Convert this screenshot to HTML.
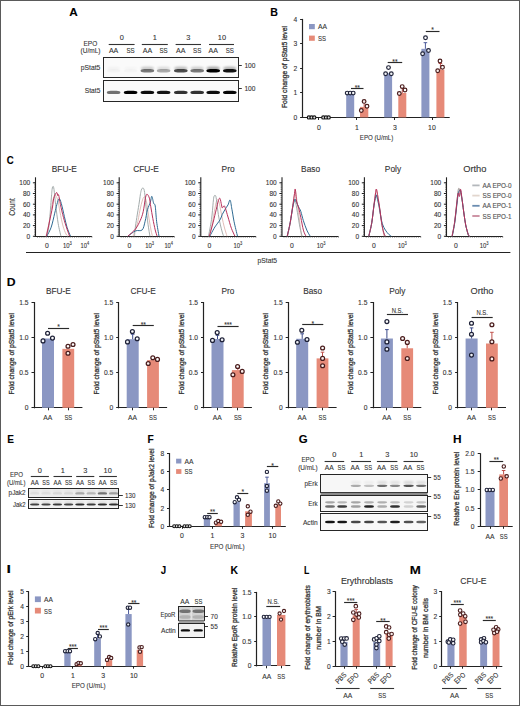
<!DOCTYPE html>
<html><head><meta charset="utf-8"><style>
html,body{margin:0;padding:0;background:#fff;}
body{width:520px;height:706px;overflow:hidden;}
svg{display:block;font-family:"Liberation Sans", sans-serif;}
text{stroke:#333;stroke-width:0.1px;paint-order:stroke;}
text.yl{stroke-width:0.3px;}
</style></head><body>
<svg width="520" height="706" viewBox="0 0 520 706" font-family='"Liberation Sans", sans-serif' fill="#333">
<defs><filter id="bl" x="-30%" y="-100%" width="160%" height="300%"><feGaussianBlur stdDeviation="0.6"/></filter><filter id="bl2" x="-30%" y="-100%" width="160%" height="300%"><feGaussianBlur stdDeviation="1"/></filter></defs>
<rect x="0" y="0" width="520" height="706" fill="#fff"/>
<text x="69.21" y="16.00" font-size="10.8" font-weight="bold" fill="#000" textLength="8.5" lengthAdjust="spacingAndGlyphs">A</text>
<text x="270.19" y="15.50" font-size="10.8" font-weight="bold" fill="#000" textLength="7.7" lengthAdjust="spacingAndGlyphs">B</text>
<text x="6.80" y="164.40" font-size="10.8" font-weight="bold" fill="#000" textLength="6.96" lengthAdjust="spacingAndGlyphs">C</text>
<text x="6.88" y="286.40" font-size="10.8" font-weight="bold" fill="#000" textLength="8.83" lengthAdjust="spacingAndGlyphs">D</text>
<text x="7.13" y="442.70" font-size="10.8" font-weight="bold" fill="#000" textLength="6.72" lengthAdjust="spacingAndGlyphs">E</text>
<text x="147.51" y="442.60" font-size="10.8" font-weight="bold" fill="#000" textLength="6.26" lengthAdjust="spacingAndGlyphs">F</text>
<text x="298.73" y="442.80" font-size="10.8" font-weight="bold" fill="#000" textLength="8.88" lengthAdjust="spacingAndGlyphs">G</text>
<text x="452.90" y="442.90" font-size="10.8" font-weight="bold" fill="#000" textLength="8.6" lengthAdjust="spacingAndGlyphs">H</text>
<text x="6.43" y="572.60" font-size="10.8" font-weight="bold" fill="#000" textLength="4.44" lengthAdjust="spacingAndGlyphs">I</text>
<text x="160.65" y="573.50" font-size="10.8" font-weight="bold" fill="#000" textLength="5.41" lengthAdjust="spacingAndGlyphs">J</text>
<text x="230.61" y="573.50" font-size="10.8" font-weight="bold" fill="#000" textLength="7.49" lengthAdjust="spacingAndGlyphs">K</text>
<text x="304.01" y="573.50" font-size="10.8" font-weight="bold" fill="#000" textLength="5.36" lengthAdjust="spacingAndGlyphs">L</text>
<text x="409.81" y="573.60" font-size="10.8" font-weight="bold" fill="#000" textLength="11.08" lengthAdjust="spacingAndGlyphs">M</text>
<text x="90.35" y="45.80" font-size="7.6" text-anchor="middle" textLength="13.8" lengthAdjust="spacingAndGlyphs">EPO</text>
<text x="90.55" y="53.00" font-size="7.6" text-anchor="middle" textLength="20" lengthAdjust="spacingAndGlyphs">(U/mL)</text>
<text x="121.70" y="40.30" font-size="7.4" text-anchor="middle">0</text>
<line x1="108.70" y1="44.50" x2="134.60" y2="44.50" stroke="#333" stroke-width="1.1"/>
<text x="154.80" y="40.30" font-size="7.4" text-anchor="middle">1</text>
<line x1="141.80" y1="44.50" x2="167.80" y2="44.50" stroke="#333" stroke-width="1.1"/>
<text x="188.30" y="40.30" font-size="7.4" text-anchor="middle">3</text>
<line x1="175.60" y1="44.50" x2="201.00" y2="44.50" stroke="#333" stroke-width="1.1"/>
<text x="221.90" y="40.30" font-size="7.4" text-anchor="middle">10</text>
<line x1="209.00" y1="44.50" x2="234.00" y2="44.50" stroke="#333" stroke-width="1.1"/>
<text x="113.60" y="53.10" font-size="7.4" text-anchor="middle" textLength="9.4" lengthAdjust="spacingAndGlyphs">AA</text>
<text x="130.60" y="53.10" font-size="7.4" text-anchor="middle" textLength="8.2" lengthAdjust="spacingAndGlyphs">SS</text>
<text x="147.40" y="53.10" font-size="7.4" text-anchor="middle" textLength="9.4" lengthAdjust="spacingAndGlyphs">AA</text>
<text x="163.60" y="53.10" font-size="7.4" text-anchor="middle" textLength="8.2" lengthAdjust="spacingAndGlyphs">SS</text>
<text x="180.80" y="53.10" font-size="7.4" text-anchor="middle" textLength="9.4" lengthAdjust="spacingAndGlyphs">AA</text>
<text x="197.20" y="53.10" font-size="7.4" text-anchor="middle" textLength="8.2" lengthAdjust="spacingAndGlyphs">SS</text>
<text x="213.20" y="53.10" font-size="7.4" text-anchor="middle" textLength="9.4" lengthAdjust="spacingAndGlyphs">AA</text>
<text x="229.80" y="53.10" font-size="7.4" text-anchor="middle" textLength="8.2" lengthAdjust="spacingAndGlyphs">SS</text>
<text x="100.40" y="70.30" font-size="7.4" text-anchor="end" textLength="19.6" lengthAdjust="spacingAndGlyphs">pStat5</text>
<text x="100.40" y="93.10" font-size="7.4" text-anchor="end" textLength="15.6" lengthAdjust="spacingAndGlyphs">Stat5</text>
<rect x="103.50" y="57.50" width="135.00" height="20.00" fill="#fafafa" stroke="#262626" stroke-width="1"/>
<rect x="103.50" y="80.50" width="135.00" height="21.00" fill="#fafafa" stroke="#262626" stroke-width="1"/>
<rect x="106.80" y="69.10" width="13.60" height="3.40" rx="3.81" ry="1.70" fill="#000" opacity="0.02" filter="url(#bl)"/>
<rect x="123.80" y="69.10" width="13.60" height="3.40" rx="3.81" ry="1.70" fill="#000" opacity="0.015" filter="url(#bl)"/>
<rect x="140.60" y="69.10" width="13.60" height="3.40" rx="3.81" ry="1.70" fill="#000" opacity="0.5" filter="url(#bl)"/>
<rect x="156.80" y="69.10" width="13.60" height="3.40" rx="3.81" ry="1.70" fill="#000" opacity="0.3" filter="url(#bl)"/>
<rect x="174.00" y="69.10" width="13.60" height="3.40" rx="3.81" ry="1.70" fill="#000" opacity="0.68" filter="url(#bl)"/>
<rect x="190.40" y="69.10" width="13.60" height="3.40" rx="3.81" ry="1.70" fill="#000" opacity="0.5" filter="url(#bl)"/>
<rect x="206.40" y="69.10" width="13.60" height="3.40" rx="3.81" ry="1.70" fill="#000" opacity="1.0" filter="url(#bl)"/>
<rect x="223.00" y="69.10" width="13.60" height="3.40" rx="3.81" ry="1.70" fill="#000" opacity="0.92" filter="url(#bl)"/>
<rect x="107.00" y="66.70" width="13.20" height="3.20" rx="3.70" ry="1.60" fill="#000" opacity="0.03" filter="url(#bl2)"/>
<rect x="124.00" y="66.70" width="13.20" height="3.20" rx="3.70" ry="1.60" fill="#000" opacity="0.02" filter="url(#bl2)"/>
<rect x="140.80" y="66.70" width="13.20" height="3.20" rx="3.70" ry="1.60" fill="#000" opacity="0.2" filter="url(#bl2)"/>
<rect x="157.00" y="66.70" width="13.20" height="3.20" rx="3.70" ry="1.60" fill="#000" opacity="0.12" filter="url(#bl2)"/>
<rect x="174.20" y="66.70" width="13.20" height="3.20" rx="3.70" ry="1.60" fill="#000" opacity="0.25" filter="url(#bl2)"/>
<rect x="190.60" y="66.70" width="13.20" height="3.20" rx="3.70" ry="1.60" fill="#000" opacity="0.18" filter="url(#bl2)"/>
<rect x="206.60" y="66.70" width="13.20" height="3.20" rx="3.70" ry="1.60" fill="#000" opacity="0.35" filter="url(#bl2)"/>
<rect x="223.20" y="66.70" width="13.20" height="3.20" rx="3.70" ry="1.60" fill="#000" opacity="0.3" filter="url(#bl2)"/>
<rect x="106.80" y="90.70" width="13.60" height="3.40" rx="3.81" ry="1.70" fill="#000" opacity="0.55" filter="url(#bl)"/>
<rect x="123.80" y="90.70" width="13.60" height="3.40" rx="3.81" ry="1.70" fill="#000" opacity="1.0" filter="url(#bl)"/>
<rect x="140.60" y="90.70" width="13.60" height="3.40" rx="3.81" ry="1.70" fill="#000" opacity="0.95" filter="url(#bl)"/>
<rect x="156.80" y="90.70" width="13.60" height="3.40" rx="3.81" ry="1.70" fill="#000" opacity="0.92" filter="url(#bl)"/>
<rect x="174.00" y="90.70" width="13.60" height="3.40" rx="3.81" ry="1.70" fill="#000" opacity="0.8" filter="url(#bl)"/>
<rect x="190.40" y="90.70" width="13.60" height="3.40" rx="3.81" ry="1.70" fill="#000" opacity="0.8" filter="url(#bl)"/>
<rect x="206.40" y="90.70" width="13.60" height="3.40" rx="3.81" ry="1.70" fill="#000" opacity="0.95" filter="url(#bl)"/>
<rect x="223.00" y="90.70" width="13.60" height="3.40" rx="3.81" ry="1.70" fill="#000" opacity="0.98" filter="url(#bl)"/>
<line x1="238.60" y1="65.50" x2="241.80" y2="65.50" stroke="#333" stroke-width="1"/>
<text x="244.40" y="68.10" font-size="7.4" textLength="11" lengthAdjust="spacingAndGlyphs">100</text>
<line x1="238.60" y1="88.50" x2="241.80" y2="88.50" stroke="#333" stroke-width="1"/>
<text x="244.40" y="90.80" font-size="7.4" textLength="11" lengthAdjust="spacingAndGlyphs">100</text>
<line x1="302.50" y1="18.90" x2="302.50" y2="117.90" stroke="#222" stroke-width="1.2"/>
<line x1="300.10" y1="117.50" x2="302.70" y2="117.50" stroke="#222" stroke-width="1"/>
<text x="297.30" y="119.80" font-size="6.7" text-anchor="end">0</text>
<line x1="300.10" y1="92.50" x2="302.70" y2="92.50" stroke="#222" stroke-width="1"/>
<text x="297.30" y="95.30" font-size="6.7" text-anchor="end">1</text>
<line x1="300.10" y1="68.50" x2="302.70" y2="68.50" stroke="#222" stroke-width="1"/>
<text x="297.30" y="70.80" font-size="6.7" text-anchor="end">2</text>
<line x1="300.10" y1="43.50" x2="302.70" y2="43.50" stroke="#222" stroke-width="1"/>
<text x="297.30" y="46.30" font-size="6.7" text-anchor="end">3</text>
<line x1="300.10" y1="19.50" x2="302.70" y2="19.50" stroke="#222" stroke-width="1"/>
<text x="297.30" y="21.80" font-size="6.7" text-anchor="end">4</text>
<line x1="302.70" y1="117.50" x2="449.70" y2="117.50" stroke="#222" stroke-width="1.2"/>
<line x1="318.50" y1="117.40" x2="318.50" y2="120.00" stroke="#222" stroke-width="1"/>
<line x1="356.50" y1="117.40" x2="356.50" y2="120.00" stroke="#222" stroke-width="1"/>
<line x1="394.50" y1="117.40" x2="394.50" y2="120.00" stroke="#222" stroke-width="1"/>
<line x1="432.50" y1="117.40" x2="432.50" y2="120.00" stroke="#222" stroke-width="1"/>
<text x="319.00" y="129.80" font-size="6.9" text-anchor="middle">0</text>
<text x="356.90" y="129.80" font-size="6.9" text-anchor="middle">1</text>
<text x="394.80" y="129.80" font-size="6.9" text-anchor="middle">3</text>
<text x="431.90" y="129.80" font-size="6.9" text-anchor="middle">10</text>
<text x="376.60" y="140.00" font-size="7.6" text-anchor="middle" textLength="33.5" lengthAdjust="spacingAndGlyphs">EPO (U/mL)</text>
<text x="287.20" y="67.00" font-size="7.9" text-anchor="middle" textLength="82" lengthAdjust="spacingAndGlyphs" transform="rotate(-90 287.20 67.00)" class="yl">Fold change of pStat5 level</text>
<rect x="309.00" y="24.00" width="5.80" height="5.20" fill="#8b97c3"/>
<text x="318.00" y="29.40" font-size="7.2" textLength="9" lengthAdjust="spacingAndGlyphs">AA</text>
<rect x="309.00" y="35.60" width="5.80" height="5.20" fill="#e68a78"/>
<text x="318.00" y="41.00" font-size="7.2" textLength="8" lengthAdjust="spacingAndGlyphs">SS</text>
<rect x="346.20" y="92.90" width="8.00" height="24.50" fill="#8b97c3"/>
<circle cx="347.20" cy="93.10" r="1.85" fill="#fff" fill-opacity="0.85" stroke="#1f2238" stroke-width="1.2"/>
<circle cx="350.20" cy="93.10" r="1.85" fill="#fff" fill-opacity="0.85" stroke="#1f2238" stroke-width="1.2"/>
<circle cx="353.20" cy="93.10" r="1.85" fill="#fff" fill-opacity="0.85" stroke="#1f2238" stroke-width="1.2"/>
<rect x="360.00" y="106.87" width="8.30" height="10.53" fill="#e68a78"/>
<line x1="364.15" y1="101.48" x2="364.15" y2="106.87" stroke="#c0504a" stroke-width="1"/>
<line x1="362.35" y1="101.48" x2="365.95" y2="101.48" stroke="#c0504a" stroke-width="1"/>
<circle cx="361.30" cy="110.50" r="1.85" fill="#fff" fill-opacity="0.85" stroke="#4a1c1c" stroke-width="1.2"/>
<circle cx="364.10" cy="101.40" r="1.85" fill="#fff" fill-opacity="0.85" stroke="#4a1c1c" stroke-width="1.2"/>
<circle cx="367.00" cy="106.20" r="1.85" fill="#fff" fill-opacity="0.85" stroke="#4a1c1c" stroke-width="1.2"/>
<rect x="384.20" y="73.30" width="7.90" height="44.10" fill="#8b97c3"/>
<circle cx="385.60" cy="73.80" r="1.85" fill="#fff" fill-opacity="0.85" stroke="#1f2238" stroke-width="1.2"/>
<circle cx="388.50" cy="67.60" r="1.85" fill="#fff" fill-opacity="0.85" stroke="#1f2238" stroke-width="1.2"/>
<circle cx="391.30" cy="73.80" r="1.85" fill="#fff" fill-opacity="0.85" stroke="#1f2238" stroke-width="1.2"/>
<rect x="398.30" y="92.90" width="8.00" height="24.50" fill="#e68a78"/>
<line x1="402.30" y1="88.00" x2="402.30" y2="92.90" stroke="#c0504a" stroke-width="1"/>
<line x1="400.50" y1="88.00" x2="404.10" y2="88.00" stroke="#c0504a" stroke-width="1"/>
<circle cx="399.30" cy="93.50" r="1.85" fill="#fff" fill-opacity="0.85" stroke="#4a1c1c" stroke-width="1.2"/>
<circle cx="402.20" cy="86.60" r="1.85" fill="#fff" fill-opacity="0.85" stroke="#4a1c1c" stroke-width="1.2"/>
<circle cx="405.00" cy="90.00" r="1.85" fill="#fff" fill-opacity="0.85" stroke="#4a1c1c" stroke-width="1.2"/>
<rect x="421.40" y="48.80" width="8.00" height="68.60" fill="#8b97c3"/>
<line x1="425.40" y1="42.68" x2="425.40" y2="48.80" stroke="#4c5a9a" stroke-width="1"/>
<line x1="423.60" y1="42.68" x2="427.20" y2="42.68" stroke="#4c5a9a" stroke-width="1"/>
<circle cx="422.60" cy="53.70" r="1.85" fill="#fff" fill-opacity="0.85" stroke="#1f2238" stroke-width="1.2"/>
<circle cx="425.50" cy="37.70" r="1.85" fill="#fff" fill-opacity="0.85" stroke="#1f2238" stroke-width="1.2"/>
<circle cx="428.50" cy="50.50" r="1.85" fill="#fff" fill-opacity="0.85" stroke="#1f2238" stroke-width="1.2"/>
<rect x="436.40" y="69.62" width="8.00" height="47.78" fill="#e68a78"/>
<line x1="440.40" y1="63.50" x2="440.40" y2="69.62" stroke="#c0504a" stroke-width="1"/>
<line x1="438.60" y1="63.50" x2="442.20" y2="63.50" stroke="#c0504a" stroke-width="1"/>
<circle cx="437.70" cy="70.80" r="1.85" fill="#fff" fill-opacity="0.85" stroke="#4a1c1c" stroke-width="1.2"/>
<circle cx="440.00" cy="61.00" r="1.85" fill="#fff" fill-opacity="0.85" stroke="#4a1c1c" stroke-width="1.2"/>
<circle cx="442.50" cy="67.30" r="1.85" fill="#fff" fill-opacity="0.85" stroke="#4a1c1c" stroke-width="1.2"/>
<circle cx="308.90" cy="117.40" r="1.6" fill="#fff" fill-opacity="0.85" stroke="#111" stroke-width="1.15"/>
<circle cx="311.60" cy="117.40" r="1.6" fill="#fff" fill-opacity="0.85" stroke="#111" stroke-width="1.15"/>
<circle cx="314.30" cy="117.40" r="1.6" fill="#fff" fill-opacity="0.85" stroke="#111" stroke-width="1.15"/>
<circle cx="323.30" cy="117.40" r="1.6" fill="#fff" fill-opacity="0.85" stroke="#111" stroke-width="1.15"/>
<circle cx="326.00" cy="117.40" r="1.6" fill="#fff" fill-opacity="0.85" stroke="#111" stroke-width="1.15"/>
<circle cx="328.70" cy="117.40" r="1.6" fill="#fff" fill-opacity="0.85" stroke="#111" stroke-width="1.15"/>
<line x1="351.00" y1="88.50" x2="363.50" y2="88.50" stroke="#2a2a2a" stroke-width="1.15"/>
<text x="357.25" y="89.50" font-size="7.5" text-anchor="middle" textLength="5.2" lengthAdjust="spacingAndGlyphs">**</text>
<line x1="387.70" y1="62.50" x2="402.20" y2="62.50" stroke="#2a2a2a" stroke-width="1.15"/>
<text x="394.95" y="63.70" font-size="7.5" text-anchor="middle" textLength="5.2" lengthAdjust="spacingAndGlyphs">**</text>
<line x1="425.80" y1="31.50" x2="439.50" y2="31.50" stroke="#2a2a2a" stroke-width="1.15"/>
<text x="432.65" y="32.20" font-size="7.5" text-anchor="middle" textLength="2.6" lengthAdjust="spacingAndGlyphs">*</text>
<text x="64.25" y="172.30" font-size="8.4" text-anchor="middle">BFU-E</text>
<line x1="35.50" y1="177.30" x2="35.50" y2="236.80" stroke="#222" stroke-width="1.1"/>
<line x1="35.50" y1="236.50" x2="91.90" y2="236.50" stroke="#222" stroke-width="1.2"/>
<line x1="34.10" y1="236.30" x2="35.50" y2="236.30" stroke="#222" stroke-width="0.7"/>
<line x1="34.10" y1="234.16" x2="35.50" y2="234.16" stroke="#222" stroke-width="0.7"/>
<line x1="34.10" y1="232.02" x2="35.50" y2="232.02" stroke="#222" stroke-width="0.7"/>
<line x1="34.10" y1="229.88" x2="35.50" y2="229.88" stroke="#222" stroke-width="0.7"/>
<line x1="34.10" y1="227.74" x2="35.50" y2="227.74" stroke="#222" stroke-width="0.7"/>
<line x1="34.10" y1="225.60" x2="35.50" y2="225.60" stroke="#222" stroke-width="0.7"/>
<line x1="34.10" y1="223.46" x2="35.50" y2="223.46" stroke="#222" stroke-width="0.7"/>
<line x1="34.10" y1="221.32" x2="35.50" y2="221.32" stroke="#222" stroke-width="0.7"/>
<line x1="34.10" y1="219.18" x2="35.50" y2="219.18" stroke="#222" stroke-width="0.7"/>
<line x1="34.10" y1="217.04" x2="35.50" y2="217.04" stroke="#222" stroke-width="0.7"/>
<line x1="34.10" y1="214.90" x2="35.50" y2="214.90" stroke="#222" stroke-width="0.7"/>
<line x1="34.10" y1="212.76" x2="35.50" y2="212.76" stroke="#222" stroke-width="0.7"/>
<line x1="34.10" y1="210.62" x2="35.50" y2="210.62" stroke="#222" stroke-width="0.7"/>
<line x1="34.10" y1="208.48" x2="35.50" y2="208.48" stroke="#222" stroke-width="0.7"/>
<line x1="34.10" y1="206.34" x2="35.50" y2="206.34" stroke="#222" stroke-width="0.7"/>
<line x1="34.10" y1="204.20" x2="35.50" y2="204.20" stroke="#222" stroke-width="0.7"/>
<line x1="34.10" y1="202.06" x2="35.50" y2="202.06" stroke="#222" stroke-width="0.7"/>
<line x1="34.10" y1="199.92" x2="35.50" y2="199.92" stroke="#222" stroke-width="0.7"/>
<line x1="34.10" y1="197.78" x2="35.50" y2="197.78" stroke="#222" stroke-width="0.7"/>
<line x1="34.10" y1="195.64" x2="35.50" y2="195.64" stroke="#222" stroke-width="0.7"/>
<line x1="34.10" y1="193.50" x2="35.50" y2="193.50" stroke="#222" stroke-width="0.7"/>
<line x1="34.10" y1="191.36" x2="35.50" y2="191.36" stroke="#222" stroke-width="0.7"/>
<line x1="34.10" y1="189.22" x2="35.50" y2="189.22" stroke="#222" stroke-width="0.7"/>
<line x1="34.10" y1="187.08" x2="35.50" y2="187.08" stroke="#222" stroke-width="0.7"/>
<line x1="34.10" y1="184.94" x2="35.50" y2="184.94" stroke="#222" stroke-width="0.7"/>
<line x1="34.10" y1="182.80" x2="35.50" y2="182.80" stroke="#222" stroke-width="0.7"/>
<line x1="32.90" y1="236.30" x2="35.50" y2="236.30" stroke="#222" stroke-width="1"/>
<text x="30.20" y="238.60" font-size="6.5" text-anchor="end">0</text>
<line x1="32.90" y1="225.60" x2="35.50" y2="225.60" stroke="#222" stroke-width="1"/>
<text x="30.20" y="227.90" font-size="6.5" text-anchor="end">20</text>
<line x1="32.90" y1="214.90" x2="35.50" y2="214.90" stroke="#222" stroke-width="1"/>
<text x="30.20" y="217.20" font-size="6.5" text-anchor="end">40</text>
<line x1="32.90" y1="204.20" x2="35.50" y2="204.20" stroke="#222" stroke-width="1"/>
<text x="30.20" y="206.50" font-size="6.5" text-anchor="end">60</text>
<line x1="32.90" y1="193.50" x2="35.50" y2="193.50" stroke="#222" stroke-width="1"/>
<text x="30.20" y="195.80" font-size="6.5" text-anchor="end">80</text>
<line x1="32.90" y1="182.80" x2="35.50" y2="182.80" stroke="#222" stroke-width="1"/>
<text x="30.20" y="185.10" font-size="6.5" text-anchor="end">100</text>
<line x1="37.50" y1="236.30" x2="37.50" y2="237.70" stroke="#333" stroke-width="0.6"/>
<line x1="39.68" y1="236.30" x2="39.68" y2="237.70" stroke="#333" stroke-width="0.6"/>
<line x1="41.85" y1="236.30" x2="41.85" y2="237.70" stroke="#333" stroke-width="0.6"/>
<line x1="44.03" y1="236.30" x2="44.03" y2="237.70" stroke="#333" stroke-width="0.6"/>
<line x1="46.20" y1="236.30" x2="46.20" y2="237.70" stroke="#333" stroke-width="0.6"/>
<line x1="48.38" y1="236.30" x2="48.38" y2="237.70" stroke="#333" stroke-width="0.6"/>
<line x1="50.56" y1="236.30" x2="50.56" y2="237.70" stroke="#333" stroke-width="0.6"/>
<line x1="52.73" y1="236.30" x2="52.73" y2="237.70" stroke="#333" stroke-width="0.6"/>
<line x1="54.91" y1="236.30" x2="54.91" y2="237.70" stroke="#333" stroke-width="0.6"/>
<line x1="57.08" y1="236.30" x2="57.08" y2="237.70" stroke="#333" stroke-width="0.6"/>
<line x1="59.26" y1="236.30" x2="59.26" y2="237.70" stroke="#333" stroke-width="0.6"/>
<line x1="61.44" y1="236.30" x2="61.44" y2="237.70" stroke="#333" stroke-width="0.6"/>
<line x1="63.61" y1="236.30" x2="63.61" y2="237.70" stroke="#333" stroke-width="0.6"/>
<line x1="65.79" y1="236.30" x2="65.79" y2="237.70" stroke="#333" stroke-width="0.6"/>
<line x1="67.96" y1="236.30" x2="67.96" y2="237.70" stroke="#333" stroke-width="0.6"/>
<line x1="70.14" y1="236.30" x2="70.14" y2="237.70" stroke="#333" stroke-width="0.6"/>
<line x1="72.32" y1="236.30" x2="72.32" y2="237.70" stroke="#333" stroke-width="0.6"/>
<line x1="74.49" y1="236.30" x2="74.49" y2="237.70" stroke="#333" stroke-width="0.6"/>
<line x1="76.67" y1="236.30" x2="76.67" y2="237.70" stroke="#333" stroke-width="0.6"/>
<line x1="78.84" y1="236.30" x2="78.84" y2="237.70" stroke="#333" stroke-width="0.6"/>
<line x1="81.02" y1="236.30" x2="81.02" y2="237.70" stroke="#333" stroke-width="0.6"/>
<line x1="83.20" y1="236.30" x2="83.20" y2="237.70" stroke="#333" stroke-width="0.6"/>
<line x1="85.37" y1="236.30" x2="85.37" y2="237.70" stroke="#333" stroke-width="0.6"/>
<line x1="87.55" y1="236.30" x2="87.55" y2="237.70" stroke="#333" stroke-width="0.6"/>
<line x1="89.72" y1="236.30" x2="89.72" y2="237.70" stroke="#333" stroke-width="0.6"/>
<line x1="91.90" y1="236.30" x2="91.90" y2="237.70" stroke="#333" stroke-width="0.6"/>
<text x="47.00" y="247.80" font-size="6.8" text-anchor="middle">0</text>
<text x="67.30" y="247.80" font-size="6.8" text-anchor="middle" textLength="8.8" lengthAdjust="spacingAndGlyphs">10<tspan font-size="4.6" dy="-2.7">3</tspan></text>
<text x="84.80" y="247.80" font-size="6.8" text-anchor="middle" textLength="8.6" lengthAdjust="spacingAndGlyphs">10<tspan font-size="4.6" dy="-2.7">4</tspan></text>
<path d="M46.0,236.2 C46.5,234.0 48.0,228.2 49.0,223.0 C50.0,217.8 51.1,209.7 52.0,205.0 C52.9,200.3 53.8,196.5 54.5,195.0 C55.2,193.5 55.4,195.0 56.0,196.0 C56.6,197.0 57.3,198.3 58.0,201.0 C58.7,203.7 59.2,207.8 60.0,212.0 C60.8,216.2 62.0,222.3 63.0,226.0 C64.0,229.7 65.2,232.3 66.0,234.0 C66.8,235.7 67.7,235.8 68.0,236.2" fill="none" stroke="#e2bdb8" stroke-width="1"/>
<path d="M46.5,236.2 C46.9,234.4 48.2,231.5 49.0,225.5 C49.8,219.5 50.7,206.0 51.2,200.0 C51.7,194.0 51.8,191.7 52.1,189.4 C52.4,187.1 52.8,186.4 53.1,186.4 C53.4,186.4 53.6,186.5 54.0,189.5 C54.4,192.5 54.9,198.7 55.6,204.4 C56.3,210.1 57.3,218.4 58.2,223.7 C59.1,229.0 60.5,234.1 60.9,236.2" fill="none" stroke="#a3abab" stroke-width="1"/>
<path d="M46.8,236.2 C47.5,234.7 49.9,231.0 51.2,227.2 C52.5,223.4 53.8,217.0 54.7,213.2 C55.7,209.4 56.2,206.8 56.9,204.4 C57.6,202.0 58.4,198.8 59.1,198.7 C59.8,198.5 60.4,200.5 61.3,203.5 C62.2,206.5 63.5,212.8 64.4,216.7 C65.4,220.6 66.0,223.9 67.0,227.2 C68.0,230.4 69.9,234.7 70.5,236.2" fill="none" stroke="#2e6a92" stroke-width="1"/>
<path d="M46.4,236.2 C46.9,233.8 48.4,226.9 49.4,222.0 C50.4,217.1 51.8,211.0 52.5,207.0 C53.2,203.0 53.1,200.6 53.8,198.2 C54.5,195.8 55.8,192.9 56.5,192.5 C57.2,192.1 57.4,195.2 57.8,195.6 C58.2,196.0 58.3,193.6 58.7,195.1 C59.1,196.6 59.6,200.7 60.4,204.4 C61.2,208.2 62.4,213.5 63.5,217.6 C64.6,221.7 66.0,225.9 67.0,229.0 C68.0,232.1 69.2,235.0 69.6,236.2" fill="none" stroke="#b8305a" stroke-width="1"/>
<text x="146.00" y="172.30" font-size="8.4" text-anchor="middle">CFU-E</text>
<line x1="119.20" y1="177.30" x2="119.20" y2="236.80" stroke="#222" stroke-width="1.1"/>
<line x1="119.20" y1="236.50" x2="174.30" y2="236.50" stroke="#222" stroke-width="1.2"/>
<line x1="117.80" y1="236.30" x2="119.20" y2="236.30" stroke="#222" stroke-width="0.7"/>
<line x1="117.80" y1="234.16" x2="119.20" y2="234.16" stroke="#222" stroke-width="0.7"/>
<line x1="117.80" y1="232.02" x2="119.20" y2="232.02" stroke="#222" stroke-width="0.7"/>
<line x1="117.80" y1="229.88" x2="119.20" y2="229.88" stroke="#222" stroke-width="0.7"/>
<line x1="117.80" y1="227.74" x2="119.20" y2="227.74" stroke="#222" stroke-width="0.7"/>
<line x1="117.80" y1="225.60" x2="119.20" y2="225.60" stroke="#222" stroke-width="0.7"/>
<line x1="117.80" y1="223.46" x2="119.20" y2="223.46" stroke="#222" stroke-width="0.7"/>
<line x1="117.80" y1="221.32" x2="119.20" y2="221.32" stroke="#222" stroke-width="0.7"/>
<line x1="117.80" y1="219.18" x2="119.20" y2="219.18" stroke="#222" stroke-width="0.7"/>
<line x1="117.80" y1="217.04" x2="119.20" y2="217.04" stroke="#222" stroke-width="0.7"/>
<line x1="117.80" y1="214.90" x2="119.20" y2="214.90" stroke="#222" stroke-width="0.7"/>
<line x1="117.80" y1="212.76" x2="119.20" y2="212.76" stroke="#222" stroke-width="0.7"/>
<line x1="117.80" y1="210.62" x2="119.20" y2="210.62" stroke="#222" stroke-width="0.7"/>
<line x1="117.80" y1="208.48" x2="119.20" y2="208.48" stroke="#222" stroke-width="0.7"/>
<line x1="117.80" y1="206.34" x2="119.20" y2="206.34" stroke="#222" stroke-width="0.7"/>
<line x1="117.80" y1="204.20" x2="119.20" y2="204.20" stroke="#222" stroke-width="0.7"/>
<line x1="117.80" y1="202.06" x2="119.20" y2="202.06" stroke="#222" stroke-width="0.7"/>
<line x1="117.80" y1="199.92" x2="119.20" y2="199.92" stroke="#222" stroke-width="0.7"/>
<line x1="117.80" y1="197.78" x2="119.20" y2="197.78" stroke="#222" stroke-width="0.7"/>
<line x1="117.80" y1="195.64" x2="119.20" y2="195.64" stroke="#222" stroke-width="0.7"/>
<line x1="117.80" y1="193.50" x2="119.20" y2="193.50" stroke="#222" stroke-width="0.7"/>
<line x1="117.80" y1="191.36" x2="119.20" y2="191.36" stroke="#222" stroke-width="0.7"/>
<line x1="117.80" y1="189.22" x2="119.20" y2="189.22" stroke="#222" stroke-width="0.7"/>
<line x1="117.80" y1="187.08" x2="119.20" y2="187.08" stroke="#222" stroke-width="0.7"/>
<line x1="117.80" y1="184.94" x2="119.20" y2="184.94" stroke="#222" stroke-width="0.7"/>
<line x1="117.80" y1="182.80" x2="119.20" y2="182.80" stroke="#222" stroke-width="0.7"/>
<line x1="116.60" y1="236.30" x2="119.20" y2="236.30" stroke="#222" stroke-width="1"/>
<text x="113.90" y="238.60" font-size="6.5" text-anchor="end">0</text>
<line x1="116.60" y1="225.60" x2="119.20" y2="225.60" stroke="#222" stroke-width="1"/>
<text x="113.90" y="227.90" font-size="6.5" text-anchor="end">20</text>
<line x1="116.60" y1="214.90" x2="119.20" y2="214.90" stroke="#222" stroke-width="1"/>
<text x="113.90" y="217.20" font-size="6.5" text-anchor="end">40</text>
<line x1="116.60" y1="204.20" x2="119.20" y2="204.20" stroke="#222" stroke-width="1"/>
<text x="113.90" y="206.50" font-size="6.5" text-anchor="end">60</text>
<line x1="116.60" y1="193.50" x2="119.20" y2="193.50" stroke="#222" stroke-width="1"/>
<text x="113.90" y="195.80" font-size="6.5" text-anchor="end">80</text>
<line x1="116.60" y1="182.80" x2="119.20" y2="182.80" stroke="#222" stroke-width="1"/>
<text x="113.90" y="185.10" font-size="6.5" text-anchor="end">100</text>
<line x1="121.20" y1="236.30" x2="121.20" y2="237.70" stroke="#333" stroke-width="0.6"/>
<line x1="123.32" y1="236.30" x2="123.32" y2="237.70" stroke="#333" stroke-width="0.6"/>
<line x1="125.45" y1="236.30" x2="125.45" y2="237.70" stroke="#333" stroke-width="0.6"/>
<line x1="127.57" y1="236.30" x2="127.57" y2="237.70" stroke="#333" stroke-width="0.6"/>
<line x1="129.70" y1="236.30" x2="129.70" y2="237.70" stroke="#333" stroke-width="0.6"/>
<line x1="131.82" y1="236.30" x2="131.82" y2="237.70" stroke="#333" stroke-width="0.6"/>
<line x1="133.94" y1="236.30" x2="133.94" y2="237.70" stroke="#333" stroke-width="0.6"/>
<line x1="136.07" y1="236.30" x2="136.07" y2="237.70" stroke="#333" stroke-width="0.6"/>
<line x1="138.19" y1="236.30" x2="138.19" y2="237.70" stroke="#333" stroke-width="0.6"/>
<line x1="140.32" y1="236.30" x2="140.32" y2="237.70" stroke="#333" stroke-width="0.6"/>
<line x1="142.44" y1="236.30" x2="142.44" y2="237.70" stroke="#333" stroke-width="0.6"/>
<line x1="144.56" y1="236.30" x2="144.56" y2="237.70" stroke="#333" stroke-width="0.6"/>
<line x1="146.69" y1="236.30" x2="146.69" y2="237.70" stroke="#333" stroke-width="0.6"/>
<line x1="148.81" y1="236.30" x2="148.81" y2="237.70" stroke="#333" stroke-width="0.6"/>
<line x1="150.94" y1="236.30" x2="150.94" y2="237.70" stroke="#333" stroke-width="0.6"/>
<line x1="153.06" y1="236.30" x2="153.06" y2="237.70" stroke="#333" stroke-width="0.6"/>
<line x1="155.18" y1="236.30" x2="155.18" y2="237.70" stroke="#333" stroke-width="0.6"/>
<line x1="157.31" y1="236.30" x2="157.31" y2="237.70" stroke="#333" stroke-width="0.6"/>
<line x1="159.43" y1="236.30" x2="159.43" y2="237.70" stroke="#333" stroke-width="0.6"/>
<line x1="161.56" y1="236.30" x2="161.56" y2="237.70" stroke="#333" stroke-width="0.6"/>
<line x1="163.68" y1="236.30" x2="163.68" y2="237.70" stroke="#333" stroke-width="0.6"/>
<line x1="165.80" y1="236.30" x2="165.80" y2="237.70" stroke="#333" stroke-width="0.6"/>
<line x1="167.93" y1="236.30" x2="167.93" y2="237.70" stroke="#333" stroke-width="0.6"/>
<line x1="170.05" y1="236.30" x2="170.05" y2="237.70" stroke="#333" stroke-width="0.6"/>
<line x1="172.18" y1="236.30" x2="172.18" y2="237.70" stroke="#333" stroke-width="0.6"/>
<line x1="174.30" y1="236.30" x2="174.30" y2="237.70" stroke="#333" stroke-width="0.6"/>
<text x="129.30" y="247.80" font-size="6.8" text-anchor="middle">0</text>
<text x="149.70" y="247.80" font-size="6.8" text-anchor="middle" textLength="8.8" lengthAdjust="spacingAndGlyphs">10<tspan font-size="4.6" dy="-2.7">3</tspan></text>
<text x="168.70" y="247.80" font-size="6.8" text-anchor="middle" textLength="8.6" lengthAdjust="spacingAndGlyphs">10<tspan font-size="4.6" dy="-2.7">4</tspan></text>
<path d="M133.0,236.2 C133.7,234.3 135.8,229.4 137.0,225.0 C138.2,220.6 139.1,214.2 140.0,210.0 C140.9,205.8 141.8,202.2 142.5,200.0 C143.2,197.8 143.8,196.7 144.5,197.0 C145.2,197.3 145.8,199.0 146.5,202.0 C147.2,205.0 147.8,210.3 148.5,215.0 C149.2,219.7 150.3,226.5 151.0,230.0 C151.7,233.5 152.2,235.2 152.5,236.2" fill="none" stroke="#e2bdb8" stroke-width="1"/>
<path d="M134.5,236.2 C134.7,234.5 134.7,231.7 135.5,226.0 C136.3,220.3 138.4,207.9 139.3,202.0 C140.2,196.1 140.5,192.8 141.2,190.5 C141.8,188.2 142.6,187.8 143.2,188.1 C143.8,188.4 144.1,189.3 144.6,192.4 C145.1,195.5 145.4,201.5 146.0,206.8 C146.6,212.1 147.3,219.3 148.0,224.2 C148.7,229.1 149.6,234.2 149.9,236.2" fill="none" stroke="#a3abab" stroke-width="1"/>
<path d="M127.8,236.2 C129.1,235.3 133.1,231.9 135.5,230.9 C137.9,229.9 140.6,231.5 142.2,229.9 C143.8,228.3 144.2,224.7 145.1,221.3 C146.0,217.9 146.6,212.9 147.5,209.7 C148.4,206.5 149.7,204.2 150.4,202.0 C151.1,199.8 151.2,196.1 151.8,196.3 C152.4,196.6 153.1,201.9 153.7,203.5 C154.3,205.1 154.7,202.9 155.2,205.9 C155.7,208.9 156.0,216.2 156.6,221.3 C157.2,226.4 158.6,233.7 159.0,236.2" fill="none" stroke="#2e6a92" stroke-width="1"/>
<path d="M127.8,236.2 C129.1,235.0 133.4,231.7 135.5,229.0 C137.6,226.3 139.0,223.2 140.3,220.3 C141.6,217.4 142.3,215.5 143.2,211.7 C144.1,207.8 144.9,200.1 145.6,197.2 C146.3,194.3 146.6,194.1 147.2,194.3 C147.8,194.5 148.8,196.1 149.4,198.2 C150.0,200.3 150.2,203.4 150.8,206.8 C151.4,210.2 152.1,214.6 152.8,218.4 C153.5,222.2 154.5,226.9 155.2,229.9 C155.9,232.9 156.8,235.1 157.1,236.2" fill="none" stroke="#b8305a" stroke-width="1"/>
<text x="228.10" y="172.30" font-size="8.4" text-anchor="middle">Pro</text>
<line x1="200.80" y1="177.30" x2="200.80" y2="236.80" stroke="#222" stroke-width="1.1"/>
<line x1="200.80" y1="236.50" x2="255.90" y2="236.50" stroke="#222" stroke-width="1.2"/>
<line x1="199.40" y1="236.30" x2="200.80" y2="236.30" stroke="#222" stroke-width="0.7"/>
<line x1="199.40" y1="234.16" x2="200.80" y2="234.16" stroke="#222" stroke-width="0.7"/>
<line x1="199.40" y1="232.02" x2="200.80" y2="232.02" stroke="#222" stroke-width="0.7"/>
<line x1="199.40" y1="229.88" x2="200.80" y2="229.88" stroke="#222" stroke-width="0.7"/>
<line x1="199.40" y1="227.74" x2="200.80" y2="227.74" stroke="#222" stroke-width="0.7"/>
<line x1="199.40" y1="225.60" x2="200.80" y2="225.60" stroke="#222" stroke-width="0.7"/>
<line x1="199.40" y1="223.46" x2="200.80" y2="223.46" stroke="#222" stroke-width="0.7"/>
<line x1="199.40" y1="221.32" x2="200.80" y2="221.32" stroke="#222" stroke-width="0.7"/>
<line x1="199.40" y1="219.18" x2="200.80" y2="219.18" stroke="#222" stroke-width="0.7"/>
<line x1="199.40" y1="217.04" x2="200.80" y2="217.04" stroke="#222" stroke-width="0.7"/>
<line x1="199.40" y1="214.90" x2="200.80" y2="214.90" stroke="#222" stroke-width="0.7"/>
<line x1="199.40" y1="212.76" x2="200.80" y2="212.76" stroke="#222" stroke-width="0.7"/>
<line x1="199.40" y1="210.62" x2="200.80" y2="210.62" stroke="#222" stroke-width="0.7"/>
<line x1="199.40" y1="208.48" x2="200.80" y2="208.48" stroke="#222" stroke-width="0.7"/>
<line x1="199.40" y1="206.34" x2="200.80" y2="206.34" stroke="#222" stroke-width="0.7"/>
<line x1="199.40" y1="204.20" x2="200.80" y2="204.20" stroke="#222" stroke-width="0.7"/>
<line x1="199.40" y1="202.06" x2="200.80" y2="202.06" stroke="#222" stroke-width="0.7"/>
<line x1="199.40" y1="199.92" x2="200.80" y2="199.92" stroke="#222" stroke-width="0.7"/>
<line x1="199.40" y1="197.78" x2="200.80" y2="197.78" stroke="#222" stroke-width="0.7"/>
<line x1="199.40" y1="195.64" x2="200.80" y2="195.64" stroke="#222" stroke-width="0.7"/>
<line x1="199.40" y1="193.50" x2="200.80" y2="193.50" stroke="#222" stroke-width="0.7"/>
<line x1="199.40" y1="191.36" x2="200.80" y2="191.36" stroke="#222" stroke-width="0.7"/>
<line x1="199.40" y1="189.22" x2="200.80" y2="189.22" stroke="#222" stroke-width="0.7"/>
<line x1="199.40" y1="187.08" x2="200.80" y2="187.08" stroke="#222" stroke-width="0.7"/>
<line x1="199.40" y1="184.94" x2="200.80" y2="184.94" stroke="#222" stroke-width="0.7"/>
<line x1="199.40" y1="182.80" x2="200.80" y2="182.80" stroke="#222" stroke-width="0.7"/>
<line x1="198.20" y1="236.30" x2="200.80" y2="236.30" stroke="#222" stroke-width="1"/>
<text x="195.50" y="238.60" font-size="6.5" text-anchor="end">0</text>
<line x1="198.20" y1="225.60" x2="200.80" y2="225.60" stroke="#222" stroke-width="1"/>
<text x="195.50" y="227.90" font-size="6.5" text-anchor="end">20</text>
<line x1="198.20" y1="214.90" x2="200.80" y2="214.90" stroke="#222" stroke-width="1"/>
<text x="195.50" y="217.20" font-size="6.5" text-anchor="end">40</text>
<line x1="198.20" y1="204.20" x2="200.80" y2="204.20" stroke="#222" stroke-width="1"/>
<text x="195.50" y="206.50" font-size="6.5" text-anchor="end">60</text>
<line x1="198.20" y1="193.50" x2="200.80" y2="193.50" stroke="#222" stroke-width="1"/>
<text x="195.50" y="195.80" font-size="6.5" text-anchor="end">80</text>
<line x1="198.20" y1="182.80" x2="200.80" y2="182.80" stroke="#222" stroke-width="1"/>
<text x="195.50" y="185.10" font-size="6.5" text-anchor="end">100</text>
<line x1="202.80" y1="236.30" x2="202.80" y2="237.70" stroke="#333" stroke-width="0.6"/>
<line x1="204.92" y1="236.30" x2="204.92" y2="237.70" stroke="#333" stroke-width="0.6"/>
<line x1="207.05" y1="236.30" x2="207.05" y2="237.70" stroke="#333" stroke-width="0.6"/>
<line x1="209.17" y1="236.30" x2="209.17" y2="237.70" stroke="#333" stroke-width="0.6"/>
<line x1="211.30" y1="236.30" x2="211.30" y2="237.70" stroke="#333" stroke-width="0.6"/>
<line x1="213.42" y1="236.30" x2="213.42" y2="237.70" stroke="#333" stroke-width="0.6"/>
<line x1="215.54" y1="236.30" x2="215.54" y2="237.70" stroke="#333" stroke-width="0.6"/>
<line x1="217.67" y1="236.30" x2="217.67" y2="237.70" stroke="#333" stroke-width="0.6"/>
<line x1="219.79" y1="236.30" x2="219.79" y2="237.70" stroke="#333" stroke-width="0.6"/>
<line x1="221.92" y1="236.30" x2="221.92" y2="237.70" stroke="#333" stroke-width="0.6"/>
<line x1="224.04" y1="236.30" x2="224.04" y2="237.70" stroke="#333" stroke-width="0.6"/>
<line x1="226.16" y1="236.30" x2="226.16" y2="237.70" stroke="#333" stroke-width="0.6"/>
<line x1="228.29" y1="236.30" x2="228.29" y2="237.70" stroke="#333" stroke-width="0.6"/>
<line x1="230.41" y1="236.30" x2="230.41" y2="237.70" stroke="#333" stroke-width="0.6"/>
<line x1="232.54" y1="236.30" x2="232.54" y2="237.70" stroke="#333" stroke-width="0.6"/>
<line x1="234.66" y1="236.30" x2="234.66" y2="237.70" stroke="#333" stroke-width="0.6"/>
<line x1="236.78" y1="236.30" x2="236.78" y2="237.70" stroke="#333" stroke-width="0.6"/>
<line x1="238.91" y1="236.30" x2="238.91" y2="237.70" stroke="#333" stroke-width="0.6"/>
<line x1="241.03" y1="236.30" x2="241.03" y2="237.70" stroke="#333" stroke-width="0.6"/>
<line x1="243.16" y1="236.30" x2="243.16" y2="237.70" stroke="#333" stroke-width="0.6"/>
<line x1="245.28" y1="236.30" x2="245.28" y2="237.70" stroke="#333" stroke-width="0.6"/>
<line x1="247.40" y1="236.30" x2="247.40" y2="237.70" stroke="#333" stroke-width="0.6"/>
<line x1="249.53" y1="236.30" x2="249.53" y2="237.70" stroke="#333" stroke-width="0.6"/>
<line x1="251.65" y1="236.30" x2="251.65" y2="237.70" stroke="#333" stroke-width="0.6"/>
<line x1="253.78" y1="236.30" x2="253.78" y2="237.70" stroke="#333" stroke-width="0.6"/>
<line x1="255.90" y1="236.30" x2="255.90" y2="237.70" stroke="#333" stroke-width="0.6"/>
<text x="209.30" y="247.80" font-size="6.8" text-anchor="middle">0</text>
<text x="237.80" y="247.80" font-size="6.8" text-anchor="middle" textLength="8.8" lengthAdjust="spacingAndGlyphs">10<tspan font-size="4.6" dy="-2.7">3</tspan></text>
<path d="M209.0,236.2 C209.5,234.3 211.0,229.7 212.0,225.0 C213.0,220.3 214.2,212.2 215.0,208.0 C215.8,203.8 216.3,201.0 217.0,200.0 C217.7,199.0 218.3,200.0 219.0,202.0 C219.7,204.0 220.2,208.0 221.0,212.0 C221.8,216.0 223.0,222.0 224.0,226.0 C225.0,230.0 226.5,234.5 227.0,236.2" fill="none" stroke="#e2bdb8" stroke-width="1"/>
<path d="M208.5,236.2 C209.0,233.4 210.7,225.2 211.5,219.6 C212.3,213.9 212.8,206.2 213.2,202.3 C213.6,198.4 213.7,197.2 214.1,196.2 C214.5,195.2 215.3,194.8 215.8,196.2 C216.3,197.6 216.6,201.3 217.1,204.9 C217.6,208.5 218.1,213.6 218.9,217.9 C219.7,222.2 221.1,227.9 221.9,230.9 C222.7,233.9 223.3,235.3 223.6,236.2" fill="none" stroke="#a3abab" stroke-width="1"/>
<path d="M209.8,236.2 C210.5,234.9 212.9,230.4 214.1,228.3 C215.3,226.2 216.1,225.4 217.1,223.9 C218.1,222.4 219.3,221.2 220.2,219.6 C221.1,218.0 221.5,216.1 222.3,214.4 C223.1,212.8 224.0,211.3 224.9,209.7 C225.8,208.1 227.1,206.5 228.0,204.9 C228.9,203.3 229.4,199.4 230.1,200.1 C230.8,200.8 231.2,205.7 231.9,209.2 C232.6,212.7 233.1,216.8 234.0,221.3 C234.9,225.8 236.9,233.7 237.5,236.2" fill="none" stroke="#2e6a92" stroke-width="1"/>
<path d="M209.4,236.2 C210.0,233.9 212.0,226.7 213.2,222.2 C214.3,217.7 215.4,212.8 216.3,209.2 C217.2,205.6 217.8,202.4 218.4,200.6 C219.0,198.8 219.5,197.7 220.0,198.4 C220.5,199.1 221.1,203.3 221.5,204.9 C221.9,206.5 221.9,207.8 222.3,207.9 C222.7,208.1 223.6,205.7 224.1,205.8 C224.6,205.9 224.8,206.5 225.4,208.4 C226.1,210.3 227.0,213.7 228.0,217.0 C229.0,220.3 230.2,225.1 231.4,228.3 C232.6,231.5 234.3,234.9 234.9,236.2" fill="none" stroke="#b8305a" stroke-width="1"/>
<text x="310.60" y="172.30" font-size="8.4" text-anchor="middle">Baso</text>
<line x1="282.00" y1="177.30" x2="282.00" y2="236.80" stroke="#222" stroke-width="1.1"/>
<line x1="282.00" y1="236.50" x2="338.40" y2="236.50" stroke="#222" stroke-width="1.2"/>
<line x1="280.60" y1="236.30" x2="282.00" y2="236.30" stroke="#222" stroke-width="0.7"/>
<line x1="280.60" y1="234.16" x2="282.00" y2="234.16" stroke="#222" stroke-width="0.7"/>
<line x1="280.60" y1="232.02" x2="282.00" y2="232.02" stroke="#222" stroke-width="0.7"/>
<line x1="280.60" y1="229.88" x2="282.00" y2="229.88" stroke="#222" stroke-width="0.7"/>
<line x1="280.60" y1="227.74" x2="282.00" y2="227.74" stroke="#222" stroke-width="0.7"/>
<line x1="280.60" y1="225.60" x2="282.00" y2="225.60" stroke="#222" stroke-width="0.7"/>
<line x1="280.60" y1="223.46" x2="282.00" y2="223.46" stroke="#222" stroke-width="0.7"/>
<line x1="280.60" y1="221.32" x2="282.00" y2="221.32" stroke="#222" stroke-width="0.7"/>
<line x1="280.60" y1="219.18" x2="282.00" y2="219.18" stroke="#222" stroke-width="0.7"/>
<line x1="280.60" y1="217.04" x2="282.00" y2="217.04" stroke="#222" stroke-width="0.7"/>
<line x1="280.60" y1="214.90" x2="282.00" y2="214.90" stroke="#222" stroke-width="0.7"/>
<line x1="280.60" y1="212.76" x2="282.00" y2="212.76" stroke="#222" stroke-width="0.7"/>
<line x1="280.60" y1="210.62" x2="282.00" y2="210.62" stroke="#222" stroke-width="0.7"/>
<line x1="280.60" y1="208.48" x2="282.00" y2="208.48" stroke="#222" stroke-width="0.7"/>
<line x1="280.60" y1="206.34" x2="282.00" y2="206.34" stroke="#222" stroke-width="0.7"/>
<line x1="280.60" y1="204.20" x2="282.00" y2="204.20" stroke="#222" stroke-width="0.7"/>
<line x1="280.60" y1="202.06" x2="282.00" y2="202.06" stroke="#222" stroke-width="0.7"/>
<line x1="280.60" y1="199.92" x2="282.00" y2="199.92" stroke="#222" stroke-width="0.7"/>
<line x1="280.60" y1="197.78" x2="282.00" y2="197.78" stroke="#222" stroke-width="0.7"/>
<line x1="280.60" y1="195.64" x2="282.00" y2="195.64" stroke="#222" stroke-width="0.7"/>
<line x1="280.60" y1="193.50" x2="282.00" y2="193.50" stroke="#222" stroke-width="0.7"/>
<line x1="280.60" y1="191.36" x2="282.00" y2="191.36" stroke="#222" stroke-width="0.7"/>
<line x1="280.60" y1="189.22" x2="282.00" y2="189.22" stroke="#222" stroke-width="0.7"/>
<line x1="280.60" y1="187.08" x2="282.00" y2="187.08" stroke="#222" stroke-width="0.7"/>
<line x1="280.60" y1="184.94" x2="282.00" y2="184.94" stroke="#222" stroke-width="0.7"/>
<line x1="280.60" y1="182.80" x2="282.00" y2="182.80" stroke="#222" stroke-width="0.7"/>
<line x1="279.40" y1="236.30" x2="282.00" y2="236.30" stroke="#222" stroke-width="1"/>
<text x="276.70" y="238.60" font-size="6.5" text-anchor="end">0</text>
<line x1="279.40" y1="225.60" x2="282.00" y2="225.60" stroke="#222" stroke-width="1"/>
<text x="276.70" y="227.90" font-size="6.5" text-anchor="end">20</text>
<line x1="279.40" y1="214.90" x2="282.00" y2="214.90" stroke="#222" stroke-width="1"/>
<text x="276.70" y="217.20" font-size="6.5" text-anchor="end">40</text>
<line x1="279.40" y1="204.20" x2="282.00" y2="204.20" stroke="#222" stroke-width="1"/>
<text x="276.70" y="206.50" font-size="6.5" text-anchor="end">60</text>
<line x1="279.40" y1="193.50" x2="282.00" y2="193.50" stroke="#222" stroke-width="1"/>
<text x="276.70" y="195.80" font-size="6.5" text-anchor="end">80</text>
<line x1="279.40" y1="182.80" x2="282.00" y2="182.80" stroke="#222" stroke-width="1"/>
<text x="276.70" y="185.10" font-size="6.5" text-anchor="end">100</text>
<line x1="284.00" y1="236.30" x2="284.00" y2="237.70" stroke="#333" stroke-width="0.6"/>
<line x1="286.18" y1="236.30" x2="286.18" y2="237.70" stroke="#333" stroke-width="0.6"/>
<line x1="288.35" y1="236.30" x2="288.35" y2="237.70" stroke="#333" stroke-width="0.6"/>
<line x1="290.53" y1="236.30" x2="290.53" y2="237.70" stroke="#333" stroke-width="0.6"/>
<line x1="292.70" y1="236.30" x2="292.70" y2="237.70" stroke="#333" stroke-width="0.6"/>
<line x1="294.88" y1="236.30" x2="294.88" y2="237.70" stroke="#333" stroke-width="0.6"/>
<line x1="297.06" y1="236.30" x2="297.06" y2="237.70" stroke="#333" stroke-width="0.6"/>
<line x1="299.23" y1="236.30" x2="299.23" y2="237.70" stroke="#333" stroke-width="0.6"/>
<line x1="301.41" y1="236.30" x2="301.41" y2="237.70" stroke="#333" stroke-width="0.6"/>
<line x1="303.58" y1="236.30" x2="303.58" y2="237.70" stroke="#333" stroke-width="0.6"/>
<line x1="305.76" y1="236.30" x2="305.76" y2="237.70" stroke="#333" stroke-width="0.6"/>
<line x1="307.94" y1="236.30" x2="307.94" y2="237.70" stroke="#333" stroke-width="0.6"/>
<line x1="310.11" y1="236.30" x2="310.11" y2="237.70" stroke="#333" stroke-width="0.6"/>
<line x1="312.29" y1="236.30" x2="312.29" y2="237.70" stroke="#333" stroke-width="0.6"/>
<line x1="314.46" y1="236.30" x2="314.46" y2="237.70" stroke="#333" stroke-width="0.6"/>
<line x1="316.64" y1="236.30" x2="316.64" y2="237.70" stroke="#333" stroke-width="0.6"/>
<line x1="318.82" y1="236.30" x2="318.82" y2="237.70" stroke="#333" stroke-width="0.6"/>
<line x1="320.99" y1="236.30" x2="320.99" y2="237.70" stroke="#333" stroke-width="0.6"/>
<line x1="323.17" y1="236.30" x2="323.17" y2="237.70" stroke="#333" stroke-width="0.6"/>
<line x1="325.34" y1="236.30" x2="325.34" y2="237.70" stroke="#333" stroke-width="0.6"/>
<line x1="327.52" y1="236.30" x2="327.52" y2="237.70" stroke="#333" stroke-width="0.6"/>
<line x1="329.70" y1="236.30" x2="329.70" y2="237.70" stroke="#333" stroke-width="0.6"/>
<line x1="331.87" y1="236.30" x2="331.87" y2="237.70" stroke="#333" stroke-width="0.6"/>
<line x1="334.05" y1="236.30" x2="334.05" y2="237.70" stroke="#333" stroke-width="0.6"/>
<line x1="336.22" y1="236.30" x2="336.22" y2="237.70" stroke="#333" stroke-width="0.6"/>
<line x1="338.40" y1="236.30" x2="338.40" y2="237.70" stroke="#333" stroke-width="0.6"/>
<text x="291.80" y="247.80" font-size="6.8" text-anchor="middle">0</text>
<text x="321.10" y="247.80" font-size="6.8" text-anchor="middle" textLength="8.8" lengthAdjust="spacingAndGlyphs">10<tspan font-size="4.6" dy="-2.7">3</tspan></text>
<path d="M287.5,236.2 C288.0,233.9 289.5,227.6 290.4,222.5 C291.3,217.4 292.2,210.2 292.9,205.5 C293.6,200.8 294.1,196.6 294.5,194.0 C294.9,191.4 295.0,189.7 295.3,190.0 C295.6,190.3 295.9,193.3 296.3,196.0 C296.7,198.7 297.1,202.0 297.6,206.0 C298.1,210.0 298.9,215.0 299.5,220.0 C300.1,225.0 301.2,233.5 301.5,236.2" fill="none" stroke="#e2bdb8" stroke-width="1"/>
<path d="M287.4,236.2 C287.9,233.9 289.4,227.5 290.3,222.5 C291.2,217.5 292.1,209.7 292.8,206.0 C293.5,202.3 294.1,201.4 294.5,200.5 C294.9,199.6 294.8,198.4 295.3,200.4 C295.8,202.4 296.6,207.8 297.4,212.3 C298.2,216.8 299.2,223.6 300.0,227.6 C300.8,231.6 301.8,234.8 302.1,236.2" fill="none" stroke="#a3abab" stroke-width="1"/>
<path d="M287.2,236.2 C287.7,233.9 289.3,227.4 290.2,222.5 C291.1,217.6 292.1,210.7 292.8,207.0 C293.5,203.3 294.1,201.8 294.5,200.5 C294.9,199.2 294.7,198.5 295.3,199.5 C295.9,200.5 297.4,204.3 298.3,206.3 C299.2,208.3 300.0,209.0 300.8,211.4 C301.6,213.8 302.4,217.7 303.4,220.8 C304.4,223.9 305.7,227.5 306.8,230.1 C307.9,232.7 309.6,235.2 310.2,236.2" fill="none" stroke="#2e6a92" stroke-width="1"/>
<path d="M287.2,236.2 C287.7,233.9 289.3,227.6 290.2,222.5 C291.1,217.4 292.1,210.3 292.8,205.5 C293.5,200.7 294.1,196.3 294.5,193.6 C294.9,190.9 294.9,188.0 295.3,189.3 C295.7,190.6 296.0,198.1 296.6,201.2 C297.2,204.3 298.0,205.3 298.7,208.0 C299.4,210.7 300.0,213.7 300.8,217.4 C301.6,221.1 302.5,227.0 303.4,230.1 C304.2,233.2 305.5,235.2 305.9,236.2" fill="none" stroke="#b8305a" stroke-width="1"/>
<text x="393.00" y="172.30" font-size="8.4" text-anchor="middle">Poly</text>
<line x1="364.40" y1="177.30" x2="364.40" y2="236.80" stroke="#222" stroke-width="1.1"/>
<line x1="364.40" y1="236.50" x2="420.70" y2="236.50" stroke="#222" stroke-width="1.2"/>
<line x1="363.00" y1="236.30" x2="364.40" y2="236.30" stroke="#222" stroke-width="0.7"/>
<line x1="363.00" y1="234.16" x2="364.40" y2="234.16" stroke="#222" stroke-width="0.7"/>
<line x1="363.00" y1="232.02" x2="364.40" y2="232.02" stroke="#222" stroke-width="0.7"/>
<line x1="363.00" y1="229.88" x2="364.40" y2="229.88" stroke="#222" stroke-width="0.7"/>
<line x1="363.00" y1="227.74" x2="364.40" y2="227.74" stroke="#222" stroke-width="0.7"/>
<line x1="363.00" y1="225.60" x2="364.40" y2="225.60" stroke="#222" stroke-width="0.7"/>
<line x1="363.00" y1="223.46" x2="364.40" y2="223.46" stroke="#222" stroke-width="0.7"/>
<line x1="363.00" y1="221.32" x2="364.40" y2="221.32" stroke="#222" stroke-width="0.7"/>
<line x1="363.00" y1="219.18" x2="364.40" y2="219.18" stroke="#222" stroke-width="0.7"/>
<line x1="363.00" y1="217.04" x2="364.40" y2="217.04" stroke="#222" stroke-width="0.7"/>
<line x1="363.00" y1="214.90" x2="364.40" y2="214.90" stroke="#222" stroke-width="0.7"/>
<line x1="363.00" y1="212.76" x2="364.40" y2="212.76" stroke="#222" stroke-width="0.7"/>
<line x1="363.00" y1="210.62" x2="364.40" y2="210.62" stroke="#222" stroke-width="0.7"/>
<line x1="363.00" y1="208.48" x2="364.40" y2="208.48" stroke="#222" stroke-width="0.7"/>
<line x1="363.00" y1="206.34" x2="364.40" y2="206.34" stroke="#222" stroke-width="0.7"/>
<line x1="363.00" y1="204.20" x2="364.40" y2="204.20" stroke="#222" stroke-width="0.7"/>
<line x1="363.00" y1="202.06" x2="364.40" y2="202.06" stroke="#222" stroke-width="0.7"/>
<line x1="363.00" y1="199.92" x2="364.40" y2="199.92" stroke="#222" stroke-width="0.7"/>
<line x1="363.00" y1="197.78" x2="364.40" y2="197.78" stroke="#222" stroke-width="0.7"/>
<line x1="363.00" y1="195.64" x2="364.40" y2="195.64" stroke="#222" stroke-width="0.7"/>
<line x1="363.00" y1="193.50" x2="364.40" y2="193.50" stroke="#222" stroke-width="0.7"/>
<line x1="363.00" y1="191.36" x2="364.40" y2="191.36" stroke="#222" stroke-width="0.7"/>
<line x1="363.00" y1="189.22" x2="364.40" y2="189.22" stroke="#222" stroke-width="0.7"/>
<line x1="363.00" y1="187.08" x2="364.40" y2="187.08" stroke="#222" stroke-width="0.7"/>
<line x1="363.00" y1="184.94" x2="364.40" y2="184.94" stroke="#222" stroke-width="0.7"/>
<line x1="363.00" y1="182.80" x2="364.40" y2="182.80" stroke="#222" stroke-width="0.7"/>
<line x1="361.80" y1="236.30" x2="364.40" y2="236.30" stroke="#222" stroke-width="1"/>
<text x="359.10" y="238.60" font-size="6.5" text-anchor="end">0</text>
<line x1="361.80" y1="225.60" x2="364.40" y2="225.60" stroke="#222" stroke-width="1"/>
<text x="359.10" y="227.90" font-size="6.5" text-anchor="end">20</text>
<line x1="361.80" y1="214.90" x2="364.40" y2="214.90" stroke="#222" stroke-width="1"/>
<text x="359.10" y="217.20" font-size="6.5" text-anchor="end">40</text>
<line x1="361.80" y1="204.20" x2="364.40" y2="204.20" stroke="#222" stroke-width="1"/>
<text x="359.10" y="206.50" font-size="6.5" text-anchor="end">60</text>
<line x1="361.80" y1="193.50" x2="364.40" y2="193.50" stroke="#222" stroke-width="1"/>
<text x="359.10" y="195.80" font-size="6.5" text-anchor="end">80</text>
<line x1="361.80" y1="182.80" x2="364.40" y2="182.80" stroke="#222" stroke-width="1"/>
<text x="359.10" y="185.10" font-size="6.5" text-anchor="end">100</text>
<line x1="366.40" y1="236.30" x2="366.40" y2="237.70" stroke="#333" stroke-width="0.6"/>
<line x1="368.57" y1="236.30" x2="368.57" y2="237.70" stroke="#333" stroke-width="0.6"/>
<line x1="370.74" y1="236.30" x2="370.74" y2="237.70" stroke="#333" stroke-width="0.6"/>
<line x1="372.92" y1="236.30" x2="372.92" y2="237.70" stroke="#333" stroke-width="0.6"/>
<line x1="375.09" y1="236.30" x2="375.09" y2="237.70" stroke="#333" stroke-width="0.6"/>
<line x1="377.26" y1="236.30" x2="377.26" y2="237.70" stroke="#333" stroke-width="0.6"/>
<line x1="379.43" y1="236.30" x2="379.43" y2="237.70" stroke="#333" stroke-width="0.6"/>
<line x1="381.60" y1="236.30" x2="381.60" y2="237.70" stroke="#333" stroke-width="0.6"/>
<line x1="383.78" y1="236.30" x2="383.78" y2="237.70" stroke="#333" stroke-width="0.6"/>
<line x1="385.95" y1="236.30" x2="385.95" y2="237.70" stroke="#333" stroke-width="0.6"/>
<line x1="388.12" y1="236.30" x2="388.12" y2="237.70" stroke="#333" stroke-width="0.6"/>
<line x1="390.29" y1="236.30" x2="390.29" y2="237.70" stroke="#333" stroke-width="0.6"/>
<line x1="392.46" y1="236.30" x2="392.46" y2="237.70" stroke="#333" stroke-width="0.6"/>
<line x1="394.64" y1="236.30" x2="394.64" y2="237.70" stroke="#333" stroke-width="0.6"/>
<line x1="396.81" y1="236.30" x2="396.81" y2="237.70" stroke="#333" stroke-width="0.6"/>
<line x1="398.98" y1="236.30" x2="398.98" y2="237.70" stroke="#333" stroke-width="0.6"/>
<line x1="401.15" y1="236.30" x2="401.15" y2="237.70" stroke="#333" stroke-width="0.6"/>
<line x1="403.32" y1="236.30" x2="403.32" y2="237.70" stroke="#333" stroke-width="0.6"/>
<line x1="405.50" y1="236.30" x2="405.50" y2="237.70" stroke="#333" stroke-width="0.6"/>
<line x1="407.67" y1="236.30" x2="407.67" y2="237.70" stroke="#333" stroke-width="0.6"/>
<line x1="409.84" y1="236.30" x2="409.84" y2="237.70" stroke="#333" stroke-width="0.6"/>
<line x1="412.01" y1="236.30" x2="412.01" y2="237.70" stroke="#333" stroke-width="0.6"/>
<line x1="414.18" y1="236.30" x2="414.18" y2="237.70" stroke="#333" stroke-width="0.6"/>
<line x1="416.36" y1="236.30" x2="416.36" y2="237.70" stroke="#333" stroke-width="0.6"/>
<line x1="418.53" y1="236.30" x2="418.53" y2="237.70" stroke="#333" stroke-width="0.6"/>
<line x1="420.70" y1="236.30" x2="420.70" y2="237.70" stroke="#333" stroke-width="0.6"/>
<text x="374.00" y="247.80" font-size="6.8" text-anchor="middle">0</text>
<text x="402.30" y="247.80" font-size="6.8" text-anchor="middle" textLength="8.8" lengthAdjust="spacingAndGlyphs">10<tspan font-size="4.6" dy="-2.7">3</tspan></text>
<path d="M368.8,236.2 C369.3,233.9 371.0,227.6 371.8,222.5 C372.6,217.4 373.3,210.5 373.9,205.5 C374.5,200.5 375.2,195.3 375.6,192.7 C376.0,190.1 376.1,189.1 376.5,189.8 C376.9,190.5 377.4,193.8 378.0,197.0 C378.6,200.2 379.2,204.8 379.8,209.0 C380.4,213.2 380.8,217.5 381.5,222.0 C382.2,226.5 383.6,233.8 384.0,236.2" fill="none" stroke="#e2bdb8" stroke-width="1"/>
<path d="M368.8,236.2 C369.3,233.9 371.0,227.5 371.8,222.5 C372.6,217.5 373.3,210.2 373.9,206.0 C374.5,201.8 375.2,198.7 375.6,197.0 C376.0,195.3 376.0,194.8 376.5,196.0 C377.0,197.2 377.8,200.7 378.5,204.0 C379.2,207.3 379.8,212.0 380.5,216.0 C381.2,220.0 381.8,224.6 382.5,228.0 C383.2,231.4 384.6,234.8 385.0,236.2" fill="none" stroke="#a3abab" stroke-width="1"/>
<path d="M368.8,236.2 C369.3,233.9 371.0,227.5 371.8,222.5 C372.6,217.5 373.3,210.2 373.9,206.0 C374.5,201.8 375.2,198.8 375.6,197.0 C376.0,195.2 375.9,193.9 376.5,195.3 C377.1,196.7 378.2,201.7 379.0,205.5 C379.8,209.3 380.5,214.9 381.1,218.2 C381.7,221.4 382.1,223.0 382.8,225.0 C383.5,227.0 384.4,228.5 385.4,230.1 C386.4,231.7 387.8,233.4 388.8,234.4 C389.8,235.4 390.9,235.9 391.3,236.2" fill="none" stroke="#2e6a92" stroke-width="1"/>
<path d="M368.8,236.2 C369.3,233.9 371.0,227.6 371.8,222.5 C372.6,217.4 373.3,210.5 373.9,205.5 C374.5,200.5 375.2,195.4 375.6,192.7 C376.0,190.0 376.1,188.3 376.5,189.3 C376.9,190.3 377.6,195.3 378.2,198.7 C378.8,202.1 379.3,205.7 379.9,209.7 C380.5,213.7 381.0,218.7 381.6,222.5 C382.2,226.3 383.1,230.4 383.7,232.7 C384.3,235.0 385.1,235.6 385.4,236.2" fill="none" stroke="#b8305a" stroke-width="1"/>
<text x="474.80" y="172.30" font-size="8.4" text-anchor="middle" textLength="23.3" lengthAdjust="spacingAndGlyphs">Ortho</text>
<line x1="446.50" y1="177.30" x2="446.50" y2="236.80" stroke="#222" stroke-width="1.1"/>
<line x1="446.50" y1="236.50" x2="502.70" y2="236.50" stroke="#222" stroke-width="1.2"/>
<line x1="445.10" y1="236.30" x2="446.50" y2="236.30" stroke="#222" stroke-width="0.7"/>
<line x1="445.10" y1="234.16" x2="446.50" y2="234.16" stroke="#222" stroke-width="0.7"/>
<line x1="445.10" y1="232.02" x2="446.50" y2="232.02" stroke="#222" stroke-width="0.7"/>
<line x1="445.10" y1="229.88" x2="446.50" y2="229.88" stroke="#222" stroke-width="0.7"/>
<line x1="445.10" y1="227.74" x2="446.50" y2="227.74" stroke="#222" stroke-width="0.7"/>
<line x1="445.10" y1="225.60" x2="446.50" y2="225.60" stroke="#222" stroke-width="0.7"/>
<line x1="445.10" y1="223.46" x2="446.50" y2="223.46" stroke="#222" stroke-width="0.7"/>
<line x1="445.10" y1="221.32" x2="446.50" y2="221.32" stroke="#222" stroke-width="0.7"/>
<line x1="445.10" y1="219.18" x2="446.50" y2="219.18" stroke="#222" stroke-width="0.7"/>
<line x1="445.10" y1="217.04" x2="446.50" y2="217.04" stroke="#222" stroke-width="0.7"/>
<line x1="445.10" y1="214.90" x2="446.50" y2="214.90" stroke="#222" stroke-width="0.7"/>
<line x1="445.10" y1="212.76" x2="446.50" y2="212.76" stroke="#222" stroke-width="0.7"/>
<line x1="445.10" y1="210.62" x2="446.50" y2="210.62" stroke="#222" stroke-width="0.7"/>
<line x1="445.10" y1="208.48" x2="446.50" y2="208.48" stroke="#222" stroke-width="0.7"/>
<line x1="445.10" y1="206.34" x2="446.50" y2="206.34" stroke="#222" stroke-width="0.7"/>
<line x1="445.10" y1="204.20" x2="446.50" y2="204.20" stroke="#222" stroke-width="0.7"/>
<line x1="445.10" y1="202.06" x2="446.50" y2="202.06" stroke="#222" stroke-width="0.7"/>
<line x1="445.10" y1="199.92" x2="446.50" y2="199.92" stroke="#222" stroke-width="0.7"/>
<line x1="445.10" y1="197.78" x2="446.50" y2="197.78" stroke="#222" stroke-width="0.7"/>
<line x1="445.10" y1="195.64" x2="446.50" y2="195.64" stroke="#222" stroke-width="0.7"/>
<line x1="445.10" y1="193.50" x2="446.50" y2="193.50" stroke="#222" stroke-width="0.7"/>
<line x1="445.10" y1="191.36" x2="446.50" y2="191.36" stroke="#222" stroke-width="0.7"/>
<line x1="445.10" y1="189.22" x2="446.50" y2="189.22" stroke="#222" stroke-width="0.7"/>
<line x1="445.10" y1="187.08" x2="446.50" y2="187.08" stroke="#222" stroke-width="0.7"/>
<line x1="445.10" y1="184.94" x2="446.50" y2="184.94" stroke="#222" stroke-width="0.7"/>
<line x1="445.10" y1="182.80" x2="446.50" y2="182.80" stroke="#222" stroke-width="0.7"/>
<line x1="443.90" y1="236.30" x2="446.50" y2="236.30" stroke="#222" stroke-width="1"/>
<text x="441.20" y="238.60" font-size="6.5" text-anchor="end">0</text>
<line x1="443.90" y1="225.60" x2="446.50" y2="225.60" stroke="#222" stroke-width="1"/>
<text x="441.20" y="227.90" font-size="6.5" text-anchor="end">20</text>
<line x1="443.90" y1="214.90" x2="446.50" y2="214.90" stroke="#222" stroke-width="1"/>
<text x="441.20" y="217.20" font-size="6.5" text-anchor="end">40</text>
<line x1="443.90" y1="204.20" x2="446.50" y2="204.20" stroke="#222" stroke-width="1"/>
<text x="441.20" y="206.50" font-size="6.5" text-anchor="end">60</text>
<line x1="443.90" y1="193.50" x2="446.50" y2="193.50" stroke="#222" stroke-width="1"/>
<text x="441.20" y="195.80" font-size="6.5" text-anchor="end">80</text>
<line x1="443.90" y1="182.80" x2="446.50" y2="182.80" stroke="#222" stroke-width="1"/>
<text x="441.20" y="185.10" font-size="6.5" text-anchor="end">100</text>
<line x1="448.50" y1="236.30" x2="448.50" y2="237.70" stroke="#333" stroke-width="0.6"/>
<line x1="450.67" y1="236.30" x2="450.67" y2="237.70" stroke="#333" stroke-width="0.6"/>
<line x1="452.84" y1="236.30" x2="452.84" y2="237.70" stroke="#333" stroke-width="0.6"/>
<line x1="455.00" y1="236.30" x2="455.00" y2="237.70" stroke="#333" stroke-width="0.6"/>
<line x1="457.17" y1="236.30" x2="457.17" y2="237.70" stroke="#333" stroke-width="0.6"/>
<line x1="459.34" y1="236.30" x2="459.34" y2="237.70" stroke="#333" stroke-width="0.6"/>
<line x1="461.51" y1="236.30" x2="461.51" y2="237.70" stroke="#333" stroke-width="0.6"/>
<line x1="463.68" y1="236.30" x2="463.68" y2="237.70" stroke="#333" stroke-width="0.6"/>
<line x1="465.84" y1="236.30" x2="465.84" y2="237.70" stroke="#333" stroke-width="0.6"/>
<line x1="468.01" y1="236.30" x2="468.01" y2="237.70" stroke="#333" stroke-width="0.6"/>
<line x1="470.18" y1="236.30" x2="470.18" y2="237.70" stroke="#333" stroke-width="0.6"/>
<line x1="472.35" y1="236.30" x2="472.35" y2="237.70" stroke="#333" stroke-width="0.6"/>
<line x1="474.52" y1="236.30" x2="474.52" y2="237.70" stroke="#333" stroke-width="0.6"/>
<line x1="476.68" y1="236.30" x2="476.68" y2="237.70" stroke="#333" stroke-width="0.6"/>
<line x1="478.85" y1="236.30" x2="478.85" y2="237.70" stroke="#333" stroke-width="0.6"/>
<line x1="481.02" y1="236.30" x2="481.02" y2="237.70" stroke="#333" stroke-width="0.6"/>
<line x1="483.19" y1="236.30" x2="483.19" y2="237.70" stroke="#333" stroke-width="0.6"/>
<line x1="485.36" y1="236.30" x2="485.36" y2="237.70" stroke="#333" stroke-width="0.6"/>
<line x1="487.52" y1="236.30" x2="487.52" y2="237.70" stroke="#333" stroke-width="0.6"/>
<line x1="489.69" y1="236.30" x2="489.69" y2="237.70" stroke="#333" stroke-width="0.6"/>
<line x1="491.86" y1="236.30" x2="491.86" y2="237.70" stroke="#333" stroke-width="0.6"/>
<line x1="494.03" y1="236.30" x2="494.03" y2="237.70" stroke="#333" stroke-width="0.6"/>
<line x1="496.20" y1="236.30" x2="496.20" y2="237.70" stroke="#333" stroke-width="0.6"/>
<line x1="498.36" y1="236.30" x2="498.36" y2="237.70" stroke="#333" stroke-width="0.6"/>
<line x1="500.53" y1="236.30" x2="500.53" y2="237.70" stroke="#333" stroke-width="0.6"/>
<line x1="502.70" y1="236.30" x2="502.70" y2="237.70" stroke="#333" stroke-width="0.6"/>
<text x="456.00" y="247.80" font-size="6.8" text-anchor="middle">0</text>
<text x="484.20" y="247.80" font-size="6.8" text-anchor="middle" textLength="8.8" lengthAdjust="spacingAndGlyphs">10<tspan font-size="4.6" dy="-2.7">3</tspan></text>
<path d="M452.1,236.2 C452.5,233.9 453.9,227.4 454.6,222.5 C455.3,217.6 455.7,212.1 456.3,207.0 C456.9,201.9 457.6,195.2 458.0,192.0 C458.4,188.8 458.5,188.1 458.9,188.1 C459.3,188.1 459.9,189.8 460.5,192.0 C461.1,194.2 461.7,197.5 462.3,201.2 C462.9,204.9 463.4,210.0 464.0,214.0 C464.6,218.0 465.0,221.6 465.7,225.0 C466.4,228.4 467.6,232.5 468.2,234.4 C468.8,236.3 469.3,235.9 469.5,236.2" fill="none" stroke="#e2bdb8" stroke-width="1"/>
<path d="M452.1,236.2 C452.5,233.9 453.9,227.4 454.6,222.5 C455.3,217.6 455.7,212.1 456.3,207.0 C456.9,201.9 457.6,195.1 458.0,192.0 C458.4,188.9 458.5,188.4 458.9,188.5 C459.3,188.6 459.9,190.4 460.5,192.5 C461.1,194.6 461.7,197.6 462.3,201.2 C462.9,204.8 463.4,210.0 464.0,214.0 C464.6,218.0 465.0,221.6 465.7,225.0 C466.4,228.4 467.4,232.5 468.0,234.4 C468.6,236.3 469.0,235.9 469.2,236.2" fill="none" stroke="#a3abab" stroke-width="1"/>
<path d="M452.3,236.2 C452.7,233.9 454.1,227.2 454.8,222.5 C455.5,217.8 455.9,212.8 456.5,208.0 C457.1,203.2 457.7,196.8 458.2,194.0 C458.7,191.2 458.9,191.6 459.3,191.0 C459.7,190.4 460.1,188.8 460.6,190.5 C461.1,192.2 461.7,197.3 462.3,201.2 C462.9,205.1 463.4,210.0 464.0,214.0 C464.6,218.0 465.0,221.6 465.7,225.0 C466.4,228.4 467.6,232.5 468.2,234.4 C468.8,236.3 469.3,235.9 469.5,236.2" fill="none" stroke="#2e6a92" stroke-width="1"/>
<path d="M452.1,236.2 C452.5,233.9 453.9,227.2 454.6,222.5 C455.3,217.8 455.7,212.8 456.3,208.0 C456.9,203.2 457.5,195.4 458.0,193.5 C458.5,191.6 459.0,197.2 459.4,196.5 C459.8,195.8 460.1,188.5 460.6,189.3 C461.1,190.1 461.7,197.1 462.3,201.2 C462.9,205.3 463.4,210.0 464.0,214.0 C464.6,218.0 465.0,221.6 465.7,225.0 C466.4,228.4 467.6,232.5 468.2,234.4 C468.8,236.3 469.3,235.9 469.5,236.2" fill="none" stroke="#b8305a" stroke-width="1"/>
<text x="14.90" y="207.00" font-size="8.4" text-anchor="middle" textLength="17.6" lengthAdjust="spacingAndGlyphs" transform="rotate(-90 14.90 207.00)">Count</text>
<line x1="26.00" y1="252.50" x2="510.40" y2="252.50" stroke="#222" stroke-width="1.1"/>
<text x="267.30" y="263.20" font-size="7.4" text-anchor="middle" textLength="19.6" lengthAdjust="spacingAndGlyphs">pStat5</text>
<line x1="472.30" y1="185.40" x2="479.60" y2="185.40" stroke="#b4b8bc" stroke-width="1.8"/>
<text x="482.50" y="187.90" font-size="7.2" fill="#555" textLength="29" lengthAdjust="spacingAndGlyphs" style="stroke:#666;stroke-width:0.15px">AA EPO-0</text>
<line x1="472.30" y1="195.60" x2="479.60" y2="195.60" stroke="#e2d6ce" stroke-width="1.8"/>
<text x="482.50" y="198.10" font-size="7.2" fill="#555" textLength="29" lengthAdjust="spacingAndGlyphs" style="stroke:#666;stroke-width:0.15px">SS EPO-0</text>
<line x1="472.30" y1="205.80" x2="479.60" y2="205.80" stroke="#6a8cb0" stroke-width="1.8"/>
<text x="482.50" y="208.30" font-size="7.2" fill="#555" textLength="29" lengthAdjust="spacingAndGlyphs" style="stroke:#666;stroke-width:0.15px">AA EPO-1</text>
<line x1="472.30" y1="216.00" x2="479.60" y2="216.00" stroke="#c98a9c" stroke-width="1.8"/>
<text x="482.50" y="218.50" font-size="7.2" fill="#555" textLength="29" lengthAdjust="spacingAndGlyphs" style="stroke:#666;stroke-width:0.15px">SS EPO-1</text>
<text x="58.40" y="293.90" font-size="8.3" text-anchor="middle">BFU-E</text>
<line x1="34.50" y1="302.00" x2="34.50" y2="408.30" stroke="#222" stroke-width="1.2"/>
<line x1="31.50" y1="407.50" x2="34.10" y2="407.50" stroke="#222" stroke-width="1"/>
<text x="28.50" y="410.20" font-size="6.7" text-anchor="end">0</text>
<line x1="31.50" y1="372.50" x2="34.10" y2="372.50" stroke="#222" stroke-width="1"/>
<text x="28.50" y="375.10" font-size="6.7" text-anchor="end">0.5</text>
<line x1="31.50" y1="337.50" x2="34.10" y2="337.50" stroke="#222" stroke-width="1"/>
<text x="28.50" y="340.00" font-size="6.7" text-anchor="end">1.0</text>
<line x1="31.50" y1="302.50" x2="34.10" y2="302.50" stroke="#222" stroke-width="1"/>
<text x="28.50" y="304.90" font-size="6.7" text-anchor="end">1.5</text>
<line x1="34.10" y1="407.50" x2="82.40" y2="407.50" stroke="#222" stroke-width="1.2"/>
<rect x="42.00" y="338.51" width="12.00" height="69.29" fill="#8b97c3"/>
<circle cx="43.00" cy="340.90" r="1.95" fill="#fff" fill-opacity="0.85" stroke="#1f2238" stroke-width="1.25"/>
<circle cx="47.60" cy="333.20" r="1.95" fill="#fff" fill-opacity="0.85" stroke="#1f2238" stroke-width="1.25"/>
<circle cx="52.50" cy="338.10" r="1.95" fill="#fff" fill-opacity="0.85" stroke="#1f2238" stroke-width="1.25"/>
<line x1="48.50" y1="407.80" x2="48.50" y2="410.30" stroke="#222" stroke-width="1"/>
<rect x="62.40" y="348.83" width="11.80" height="58.97" fill="#e68a78"/>
<circle cx="68.00" cy="346.30" r="1.95" fill="#fff" fill-opacity="0.85" stroke="#4a1c1c" stroke-width="1.25"/>
<circle cx="73.00" cy="344.50" r="1.95" fill="#fff" fill-opacity="0.85" stroke="#4a1c1c" stroke-width="1.25"/>
<circle cx="68.00" cy="353.20" r="1.95" fill="#fff" fill-opacity="0.85" stroke="#4a1c1c" stroke-width="1.25"/>
<line x1="68.50" y1="407.80" x2="68.50" y2="410.30" stroke="#222" stroke-width="1"/>
<text x="47.80" y="419.90" font-size="7.2" text-anchor="middle" textLength="9" lengthAdjust="spacingAndGlyphs">AA</text>
<text x="68.30" y="419.90" font-size="7.2" text-anchor="middle" textLength="7.8" lengthAdjust="spacingAndGlyphs">SS</text>
<line x1="48.00" y1="328.50" x2="69.10" y2="328.50" stroke="#2a2a2a" stroke-width="1.15"/>
<text x="58.55" y="329.30" font-size="7.5" text-anchor="middle" textLength="2.6" lengthAdjust="spacingAndGlyphs">*</text>
<text x="14.30" y="353.70" font-size="7.9" text-anchor="middle" textLength="81.5" lengthAdjust="spacingAndGlyphs" transform="rotate(-90 14.30 353.70)" class="yl">Fold change of pStat5 level</text>
<text x="143.10" y="293.90" font-size="8.3" text-anchor="middle">CFU-E</text>
<line x1="118.50" y1="302.00" x2="118.50" y2="408.30" stroke="#222" stroke-width="1.2"/>
<line x1="116.20" y1="407.50" x2="118.80" y2="407.50" stroke="#222" stroke-width="1"/>
<text x="113.20" y="410.20" font-size="6.7" text-anchor="end">0</text>
<line x1="116.20" y1="372.50" x2="118.80" y2="372.50" stroke="#222" stroke-width="1"/>
<text x="113.20" y="375.10" font-size="6.7" text-anchor="end">0.5</text>
<line x1="116.20" y1="337.50" x2="118.80" y2="337.50" stroke="#222" stroke-width="1"/>
<text x="113.20" y="340.00" font-size="6.7" text-anchor="end">1.0</text>
<line x1="116.20" y1="302.50" x2="118.80" y2="302.50" stroke="#222" stroke-width="1"/>
<text x="113.20" y="304.90" font-size="6.7" text-anchor="end">1.5</text>
<line x1="118.80" y1="407.50" x2="167.10" y2="407.50" stroke="#222" stroke-width="1.2"/>
<rect x="126.70" y="339.21" width="12.00" height="68.59" fill="#8b97c3"/>
<line x1="132.70" y1="334.20" x2="132.70" y2="339.21" stroke="#3c4a8a" stroke-width="1"/>
<line x1="130.90" y1="334.20" x2="134.50" y2="334.20" stroke="#3c4a8a" stroke-width="1"/>
<circle cx="127.50" cy="341.90" r="1.95" fill="#fff" fill-opacity="0.85" stroke="#1f2238" stroke-width="1.25"/>
<circle cx="132.40" cy="331.50" r="1.95" fill="#fff" fill-opacity="0.85" stroke="#1f2238" stroke-width="1.25"/>
<circle cx="137.20" cy="338.80" r="1.95" fill="#fff" fill-opacity="0.85" stroke="#1f2238" stroke-width="1.25"/>
<line x1="132.50" y1="407.80" x2="132.50" y2="410.30" stroke="#222" stroke-width="1"/>
<rect x="147.10" y="360.06" width="11.80" height="47.74" fill="#e68a78"/>
<circle cx="148.20" cy="363.50" r="1.95" fill="#fff" fill-opacity="0.85" stroke="#4a1c1c" stroke-width="1.25"/>
<circle cx="152.80" cy="357.70" r="1.95" fill="#fff" fill-opacity="0.85" stroke="#4a1c1c" stroke-width="1.25"/>
<circle cx="157.50" cy="359.40" r="1.95" fill="#fff" fill-opacity="0.85" stroke="#4a1c1c" stroke-width="1.25"/>
<line x1="153.50" y1="407.80" x2="153.50" y2="410.30" stroke="#222" stroke-width="1"/>
<text x="132.50" y="419.90" font-size="7.2" text-anchor="middle" textLength="9" lengthAdjust="spacingAndGlyphs">AA</text>
<text x="153.00" y="419.90" font-size="7.2" text-anchor="middle" textLength="7.8" lengthAdjust="spacingAndGlyphs">SS</text>
<line x1="132.70" y1="325.50" x2="153.80" y2="325.50" stroke="#2a2a2a" stroke-width="1.15"/>
<text x="143.25" y="326.60" font-size="7.5" text-anchor="middle" textLength="5.2" lengthAdjust="spacingAndGlyphs">**</text>
<text x="99.00" y="353.70" font-size="7.9" text-anchor="middle" textLength="81.5" lengthAdjust="spacingAndGlyphs" transform="rotate(-90 99.00 353.70)" class="yl">Fold change of pStat5 level</text>
<text x="227.90" y="293.90" font-size="8.3" text-anchor="middle">Pro</text>
<line x1="203.50" y1="302.00" x2="203.50" y2="408.30" stroke="#222" stroke-width="1.2"/>
<line x1="201.00" y1="407.50" x2="203.60" y2="407.50" stroke="#222" stroke-width="1"/>
<text x="198.00" y="410.20" font-size="6.7" text-anchor="end">0</text>
<line x1="201.00" y1="372.50" x2="203.60" y2="372.50" stroke="#222" stroke-width="1"/>
<text x="198.00" y="375.10" font-size="6.7" text-anchor="end">0.5</text>
<line x1="201.00" y1="337.50" x2="203.60" y2="337.50" stroke="#222" stroke-width="1"/>
<text x="198.00" y="340.00" font-size="6.7" text-anchor="end">1.0</text>
<line x1="201.00" y1="302.50" x2="203.60" y2="302.50" stroke="#222" stroke-width="1"/>
<text x="198.00" y="304.90" font-size="6.7" text-anchor="end">1.5</text>
<line x1="203.60" y1="407.50" x2="251.90" y2="407.50" stroke="#222" stroke-width="1.2"/>
<rect x="211.50" y="339.00" width="12.00" height="68.80" fill="#8b97c3"/>
<line x1="217.50" y1="335.30" x2="217.50" y2="339.00" stroke="#3c4a8a" stroke-width="1"/>
<line x1="215.70" y1="335.30" x2="219.30" y2="335.30" stroke="#3c4a8a" stroke-width="1"/>
<circle cx="212.50" cy="340.40" r="1.95" fill="#fff" fill-opacity="0.85" stroke="#1f2238" stroke-width="1.25"/>
<circle cx="217.20" cy="332.60" r="1.95" fill="#fff" fill-opacity="0.85" stroke="#1f2238" stroke-width="1.25"/>
<circle cx="222.10" cy="339.70" r="1.95" fill="#fff" fill-opacity="0.85" stroke="#1f2238" stroke-width="1.25"/>
<line x1="217.50" y1="407.80" x2="217.50" y2="410.30" stroke="#222" stroke-width="1"/>
<rect x="231.90" y="370.10" width="11.80" height="37.70" fill="#e68a78"/>
<line x1="237.80" y1="368.40" x2="237.80" y2="370.10" stroke="#c0504a" stroke-width="1"/>
<line x1="236.00" y1="368.40" x2="239.60" y2="368.40" stroke="#c0504a" stroke-width="1"/>
<circle cx="232.90" cy="374.80" r="1.95" fill="#fff" fill-opacity="0.85" stroke="#4a1c1c" stroke-width="1.25"/>
<circle cx="237.60" cy="366.50" r="1.95" fill="#fff" fill-opacity="0.85" stroke="#4a1c1c" stroke-width="1.25"/>
<circle cx="242.20" cy="371.40" r="1.95" fill="#fff" fill-opacity="0.85" stroke="#4a1c1c" stroke-width="1.25"/>
<line x1="237.50" y1="407.80" x2="237.50" y2="410.30" stroke="#222" stroke-width="1"/>
<text x="217.30" y="419.90" font-size="7.2" text-anchor="middle" textLength="9" lengthAdjust="spacingAndGlyphs">AA</text>
<text x="237.80" y="419.90" font-size="7.2" text-anchor="middle" textLength="7.8" lengthAdjust="spacingAndGlyphs">SS</text>
<line x1="217.50" y1="326.50" x2="238.60" y2="326.50" stroke="#2a2a2a" stroke-width="1.15"/>
<text x="228.05" y="327.30" font-size="7.5" text-anchor="middle" textLength="7.800000000000001" lengthAdjust="spacingAndGlyphs">***</text>
<text x="183.80" y="353.70" font-size="7.9" text-anchor="middle" textLength="81.5" lengthAdjust="spacingAndGlyphs" transform="rotate(-90 183.80 353.70)" class="yl">Fold change of pStat5 level</text>
<text x="312.60" y="293.90" font-size="8.3" text-anchor="middle">Baso</text>
<line x1="288.50" y1="302.00" x2="288.50" y2="408.30" stroke="#222" stroke-width="1.2"/>
<line x1="285.70" y1="407.50" x2="288.30" y2="407.50" stroke="#222" stroke-width="1"/>
<text x="282.70" y="410.20" font-size="6.7" text-anchor="end">0</text>
<line x1="285.70" y1="372.50" x2="288.30" y2="372.50" stroke="#222" stroke-width="1"/>
<text x="282.70" y="375.10" font-size="6.7" text-anchor="end">0.5</text>
<line x1="285.70" y1="337.50" x2="288.30" y2="337.50" stroke="#222" stroke-width="1"/>
<text x="282.70" y="340.00" font-size="6.7" text-anchor="end">1.0</text>
<line x1="285.70" y1="302.50" x2="288.30" y2="302.50" stroke="#222" stroke-width="1"/>
<text x="282.70" y="304.90" font-size="6.7" text-anchor="end">1.5</text>
<line x1="288.30" y1="407.50" x2="336.60" y2="407.50" stroke="#222" stroke-width="1.2"/>
<rect x="296.20" y="338.79" width="12.00" height="69.01" fill="#8b97c3"/>
<line x1="302.20" y1="333.80" x2="302.20" y2="338.79" stroke="#3c4a8a" stroke-width="1"/>
<line x1="300.40" y1="333.80" x2="304.00" y2="333.80" stroke="#3c4a8a" stroke-width="1"/>
<circle cx="297.40" cy="342.20" r="1.95" fill="#fff" fill-opacity="0.85" stroke="#1f2238" stroke-width="1.25"/>
<circle cx="301.80" cy="330.30" r="1.95" fill="#fff" fill-opacity="0.85" stroke="#1f2238" stroke-width="1.25"/>
<circle cx="307.00" cy="339.50" r="1.95" fill="#fff" fill-opacity="0.85" stroke="#1f2238" stroke-width="1.25"/>
<line x1="302.50" y1="407.80" x2="302.50" y2="410.30" stroke="#222" stroke-width="1"/>
<rect x="316.60" y="358.38" width="11.80" height="49.42" fill="#e68a78"/>
<line x1="322.50" y1="352.20" x2="322.50" y2="358.38" stroke="#c0504a" stroke-width="1"/>
<line x1="320.70" y1="352.20" x2="324.30" y2="352.20" stroke="#c0504a" stroke-width="1"/>
<circle cx="322.60" cy="348.00" r="1.95" fill="#fff" fill-opacity="0.85" stroke="#4a1c1c" stroke-width="1.25"/>
<circle cx="322.60" cy="358.40" r="1.95" fill="#fff" fill-opacity="0.85" stroke="#4a1c1c" stroke-width="1.25"/>
<circle cx="322.60" cy="365.70" r="1.95" fill="#fff" fill-opacity="0.85" stroke="#4a1c1c" stroke-width="1.25"/>
<line x1="322.50" y1="407.80" x2="322.50" y2="410.30" stroke="#222" stroke-width="1"/>
<text x="302.00" y="419.90" font-size="7.2" text-anchor="middle" textLength="9" lengthAdjust="spacingAndGlyphs">AA</text>
<text x="322.50" y="419.90" font-size="7.2" text-anchor="middle" textLength="7.8" lengthAdjust="spacingAndGlyphs">SS</text>
<line x1="302.20" y1="324.50" x2="323.30" y2="324.50" stroke="#2a2a2a" stroke-width="1.15"/>
<text x="312.75" y="325.50" font-size="7.5" text-anchor="middle" textLength="2.6" lengthAdjust="spacingAndGlyphs">*</text>
<text x="268.50" y="353.70" font-size="7.9" text-anchor="middle" textLength="81.5" lengthAdjust="spacingAndGlyphs" transform="rotate(-90 268.50 353.70)" class="yl">Fold change of pStat5 level</text>
<text x="397.30" y="293.90" font-size="8.3" text-anchor="middle">Poly</text>
<line x1="373.50" y1="302.00" x2="373.50" y2="408.30" stroke="#222" stroke-width="1.2"/>
<line x1="370.40" y1="407.50" x2="373.00" y2="407.50" stroke="#222" stroke-width="1"/>
<text x="367.40" y="410.20" font-size="6.7" text-anchor="end">0</text>
<line x1="370.40" y1="372.50" x2="373.00" y2="372.50" stroke="#222" stroke-width="1"/>
<text x="367.40" y="375.10" font-size="6.7" text-anchor="end">0.5</text>
<line x1="370.40" y1="337.50" x2="373.00" y2="337.50" stroke="#222" stroke-width="1"/>
<text x="367.40" y="340.00" font-size="6.7" text-anchor="end">1.0</text>
<line x1="370.40" y1="302.50" x2="373.00" y2="302.50" stroke="#222" stroke-width="1"/>
<text x="367.40" y="304.90" font-size="6.7" text-anchor="end">1.5</text>
<line x1="373.00" y1="407.50" x2="421.30" y2="407.50" stroke="#222" stroke-width="1.2"/>
<rect x="380.90" y="338.51" width="12.00" height="69.29" fill="#8b97c3"/>
<line x1="386.90" y1="329.60" x2="386.90" y2="338.51" stroke="#3c4a8a" stroke-width="1"/>
<line x1="385.10" y1="329.60" x2="388.70" y2="329.60" stroke="#3c4a8a" stroke-width="1"/>
<circle cx="386.90" cy="321.60" r="1.95" fill="#fff" fill-opacity="0.85" stroke="#1f2238" stroke-width="1.25"/>
<circle cx="386.90" cy="341.90" r="1.95" fill="#fff" fill-opacity="0.85" stroke="#1f2238" stroke-width="1.25"/>
<circle cx="386.90" cy="349.20" r="1.95" fill="#fff" fill-opacity="0.85" stroke="#1f2238" stroke-width="1.25"/>
<line x1="386.50" y1="407.80" x2="386.50" y2="410.30" stroke="#222" stroke-width="1"/>
<rect x="401.30" y="348.27" width="11.80" height="59.53" fill="#e68a78"/>
<line x1="407.20" y1="341.10" x2="407.20" y2="348.27" stroke="#c0504a" stroke-width="1"/>
<line x1="405.40" y1="341.10" x2="409.00" y2="341.10" stroke="#c0504a" stroke-width="1"/>
<circle cx="402.60" cy="338.50" r="1.95" fill="#fff" fill-opacity="0.85" stroke="#4a1c1c" stroke-width="1.25"/>
<circle cx="407.30" cy="342.40" r="1.95" fill="#fff" fill-opacity="0.85" stroke="#4a1c1c" stroke-width="1.25"/>
<circle cx="407.30" cy="358.50" r="1.95" fill="#fff" fill-opacity="0.85" stroke="#4a1c1c" stroke-width="1.25"/>
<line x1="407.50" y1="407.80" x2="407.50" y2="410.30" stroke="#222" stroke-width="1"/>
<text x="386.70" y="419.90" font-size="7.2" text-anchor="middle" textLength="9" lengthAdjust="spacingAndGlyphs">AA</text>
<text x="407.20" y="419.90" font-size="7.2" text-anchor="middle" textLength="7.8" lengthAdjust="spacingAndGlyphs">SS</text>
<line x1="386.90" y1="314.50" x2="408.00" y2="314.50" stroke="#2a2a2a" stroke-width="1.15"/>
<text x="397.45" y="312.60" font-size="6.6" text-anchor="middle" textLength="11.5" lengthAdjust="spacingAndGlyphs">N.S.</text>
<text x="353.20" y="353.70" font-size="7.9" text-anchor="middle" textLength="81.5" lengthAdjust="spacingAndGlyphs" transform="rotate(-90 353.20 353.70)" class="yl">Fold change of pStat5 level</text>
<text x="482.00" y="293.90" font-size="8.3" text-anchor="middle" textLength="23" lengthAdjust="spacingAndGlyphs">Ortho</text>
<line x1="457.50" y1="302.00" x2="457.50" y2="408.30" stroke="#222" stroke-width="1.2"/>
<line x1="455.10" y1="407.50" x2="457.70" y2="407.50" stroke="#222" stroke-width="1"/>
<text x="452.10" y="410.20" font-size="6.7" text-anchor="end">0</text>
<line x1="455.10" y1="372.50" x2="457.70" y2="372.50" stroke="#222" stroke-width="1"/>
<text x="452.10" y="375.10" font-size="6.7" text-anchor="end">0.5</text>
<line x1="455.10" y1="337.50" x2="457.70" y2="337.50" stroke="#222" stroke-width="1"/>
<text x="452.10" y="340.00" font-size="6.7" text-anchor="end">1.0</text>
<line x1="455.10" y1="302.50" x2="457.70" y2="302.50" stroke="#222" stroke-width="1"/>
<text x="452.10" y="304.90" font-size="6.7" text-anchor="end">1.5</text>
<line x1="457.70" y1="407.50" x2="506.00" y2="407.50" stroke="#222" stroke-width="1.2"/>
<rect x="465.60" y="338.51" width="12.00" height="69.29" fill="#8b97c3"/>
<line x1="471.60" y1="327.90" x2="471.60" y2="338.51" stroke="#3c4a8a" stroke-width="1"/>
<line x1="469.80" y1="327.90" x2="473.40" y2="327.90" stroke="#3c4a8a" stroke-width="1"/>
<circle cx="471.50" cy="323.30" r="1.95" fill="#fff" fill-opacity="0.85" stroke="#1f2238" stroke-width="1.25"/>
<circle cx="471.50" cy="334.30" r="1.95" fill="#fff" fill-opacity="0.85" stroke="#1f2238" stroke-width="1.25"/>
<circle cx="471.50" cy="355.10" r="1.95" fill="#fff" fill-opacity="0.85" stroke="#1f2238" stroke-width="1.25"/>
<line x1="471.50" y1="407.80" x2="471.50" y2="410.30" stroke="#222" stroke-width="1"/>
<rect x="486.00" y="343.50" width="11.80" height="64.30" fill="#e68a78"/>
<line x1="491.90" y1="332.30" x2="491.90" y2="343.50" stroke="#c0504a" stroke-width="1"/>
<line x1="490.10" y1="332.30" x2="493.70" y2="332.30" stroke="#c0504a" stroke-width="1"/>
<circle cx="491.90" cy="324.70" r="1.95" fill="#fff" fill-opacity="0.85" stroke="#4a1c1c" stroke-width="1.25"/>
<circle cx="491.90" cy="341.70" r="1.95" fill="#fff" fill-opacity="0.85" stroke="#4a1c1c" stroke-width="1.25"/>
<circle cx="491.90" cy="358.90" r="1.95" fill="#fff" fill-opacity="0.85" stroke="#4a1c1c" stroke-width="1.25"/>
<line x1="491.50" y1="407.80" x2="491.50" y2="410.30" stroke="#222" stroke-width="1"/>
<text x="471.40" y="419.90" font-size="7.2" text-anchor="middle" textLength="9" lengthAdjust="spacingAndGlyphs">AA</text>
<text x="491.90" y="419.90" font-size="7.2" text-anchor="middle" textLength="7.8" lengthAdjust="spacingAndGlyphs">SS</text>
<line x1="471.60" y1="317.50" x2="492.70" y2="317.50" stroke="#2a2a2a" stroke-width="1.15"/>
<text x="482.15" y="315.30" font-size="6.6" text-anchor="middle" textLength="11.5" lengthAdjust="spacingAndGlyphs">N.S.</text>
<text x="437.90" y="353.70" font-size="7.9" text-anchor="middle" textLength="81.5" lengthAdjust="spacingAndGlyphs" transform="rotate(-90 437.90 353.70)" class="yl">Fold change of pStat5 level</text>
<text x="16.50" y="477.00" font-size="7.4" text-anchor="middle" textLength="13" lengthAdjust="spacingAndGlyphs">EPO</text>
<text x="16.20" y="485.20" font-size="7.4" text-anchor="middle" textLength="18.5" lengthAdjust="spacingAndGlyphs">(U/mL)</text>
<text x="39.70" y="472.80" font-size="7.4" text-anchor="middle">0</text>
<line x1="30.80" y1="476.50" x2="48.90" y2="476.50" stroke="#333" stroke-width="1.1"/>
<text x="62.70" y="472.80" font-size="7.4" text-anchor="middle">1</text>
<line x1="53.50" y1="476.50" x2="72.00" y2="476.50" stroke="#333" stroke-width="1.1"/>
<text x="85.40" y="472.80" font-size="7.4" text-anchor="middle">3</text>
<line x1="76.20" y1="476.50" x2="94.30" y2="476.50" stroke="#333" stroke-width="1.1"/>
<text x="107.70" y="472.80" font-size="7.4" text-anchor="middle">10</text>
<line x1="99.20" y1="476.50" x2="116.90" y2="476.50" stroke="#333" stroke-width="1.1"/>
<text x="34.70" y="485.30" font-size="7.4" text-anchor="middle" textLength="8" lengthAdjust="spacingAndGlyphs">AA</text>
<text x="46.00" y="485.30" font-size="7.4" text-anchor="middle" textLength="7.3" lengthAdjust="spacingAndGlyphs">SS</text>
<text x="57.40" y="485.30" font-size="7.4" text-anchor="middle" textLength="8" lengthAdjust="spacingAndGlyphs">AA</text>
<text x="68.60" y="485.30" font-size="7.4" text-anchor="middle" textLength="7.3" lengthAdjust="spacingAndGlyphs">SS</text>
<text x="79.90" y="485.30" font-size="7.4" text-anchor="middle" textLength="8" lengthAdjust="spacingAndGlyphs">AA</text>
<text x="91.20" y="485.30" font-size="7.4" text-anchor="middle" textLength="7.3" lengthAdjust="spacingAndGlyphs">SS</text>
<text x="102.40" y="485.30" font-size="7.4" text-anchor="middle" textLength="8" lengthAdjust="spacingAndGlyphs">AA</text>
<text x="113.60" y="485.30" font-size="7.4" text-anchor="middle" textLength="7.3" lengthAdjust="spacingAndGlyphs">SS</text>
<text x="25.60" y="495.40" font-size="7.4" text-anchor="end" textLength="17" lengthAdjust="spacingAndGlyphs">pJak2</text>
<text x="25.60" y="507.00" font-size="7.4" text-anchor="end" textLength="12.6" lengthAdjust="spacingAndGlyphs">Jak2</text>
<rect x="28.50" y="488.50" width="90.00" height="9.00" fill="#ededed" stroke="#262626" stroke-width="1"/>
<rect x="28.50" y="499.50" width="90.00" height="9.00" fill="#f2f2f2" stroke="#262626" stroke-width="1"/>
<rect x="29.95" y="492.20" width="9.50" height="2.40" rx="2.66" ry="1.20" fill="#000" opacity="0.06" filter="url(#bl)"/>
<rect x="41.25" y="492.20" width="9.50" height="2.40" rx="2.66" ry="1.20" fill="#000" opacity="0.06" filter="url(#bl)"/>
<rect x="52.65" y="492.20" width="9.50" height="2.40" rx="2.66" ry="1.20" fill="#000" opacity="0.08" filter="url(#bl)"/>
<rect x="63.85" y="492.20" width="9.50" height="2.40" rx="2.66" ry="1.20" fill="#000" opacity="0.08" filter="url(#bl)"/>
<rect x="75.15" y="492.20" width="9.50" height="2.40" rx="2.66" ry="1.20" fill="#000" opacity="0.28" filter="url(#bl)"/>
<rect x="86.45" y="492.20" width="9.50" height="2.40" rx="2.66" ry="1.20" fill="#000" opacity="0.22" filter="url(#bl)"/>
<rect x="97.65" y="492.20" width="9.50" height="2.40" rx="2.66" ry="1.20" fill="#000" opacity="0.5" filter="url(#bl)"/>
<rect x="108.85" y="492.20" width="9.50" height="2.40" rx="2.66" ry="1.20" fill="#000" opacity="0.32" filter="url(#bl)"/>
<rect x="29.95" y="490.20" width="9.50" height="2.00" rx="2.66" ry="1.00" fill="#000" opacity="0.05" filter="url(#bl2)"/>
<rect x="41.25" y="490.20" width="9.50" height="2.00" rx="2.66" ry="1.00" fill="#000" opacity="0.05" filter="url(#bl2)"/>
<rect x="52.65" y="490.20" width="9.50" height="2.00" rx="2.66" ry="1.00" fill="#000" opacity="0.05" filter="url(#bl2)"/>
<rect x="63.85" y="490.20" width="9.50" height="2.00" rx="2.66" ry="1.00" fill="#000" opacity="0.05" filter="url(#bl2)"/>
<rect x="75.15" y="490.20" width="9.50" height="2.00" rx="2.66" ry="1.00" fill="#000" opacity="0.1" filter="url(#bl2)"/>
<rect x="86.45" y="490.20" width="9.50" height="2.00" rx="2.66" ry="1.00" fill="#000" opacity="0.08" filter="url(#bl2)"/>
<rect x="97.65" y="490.20" width="9.50" height="2.00" rx="2.66" ry="1.00" fill="#000" opacity="0.15" filter="url(#bl2)"/>
<rect x="108.85" y="490.20" width="9.50" height="2.00" rx="2.66" ry="1.00" fill="#000" opacity="0.1" filter="url(#bl2)"/>
<rect x="30.00" y="503.40" width="9.40" height="2.00" rx="2.63" ry="1.00" fill="#000" opacity="0.72" filter="url(#bl)"/>
<rect x="41.30" y="503.40" width="9.40" height="2.00" rx="2.63" ry="1.00" fill="#000" opacity="0.7" filter="url(#bl)"/>
<rect x="52.70" y="503.40" width="9.40" height="2.00" rx="2.63" ry="1.00" fill="#000" opacity="0.75" filter="url(#bl)"/>
<rect x="63.90" y="503.40" width="9.40" height="2.00" rx="2.63" ry="1.00" fill="#000" opacity="0.7" filter="url(#bl)"/>
<rect x="75.20" y="503.40" width="9.40" height="2.00" rx="2.63" ry="1.00" fill="#000" opacity="0.8" filter="url(#bl)"/>
<rect x="86.50" y="503.40" width="9.40" height="2.00" rx="2.63" ry="1.00" fill="#000" opacity="0.75" filter="url(#bl)"/>
<rect x="97.70" y="503.40" width="9.40" height="2.00" rx="2.63" ry="1.00" fill="#000" opacity="0.8" filter="url(#bl)"/>
<rect x="108.90" y="503.40" width="9.40" height="2.00" rx="2.63" ry="1.00" fill="#000" opacity="0.8" filter="url(#bl)"/>
<rect x="30.00" y="501.80" width="9.40" height="1.60" rx="2.63" ry="0.80" fill="#000" opacity="0.12" filter="url(#bl2)"/>
<rect x="41.30" y="501.80" width="9.40" height="1.60" rx="2.63" ry="0.80" fill="#000" opacity="0.12" filter="url(#bl2)"/>
<rect x="52.70" y="501.80" width="9.40" height="1.60" rx="2.63" ry="0.80" fill="#000" opacity="0.12" filter="url(#bl2)"/>
<rect x="63.90" y="501.80" width="9.40" height="1.60" rx="2.63" ry="0.80" fill="#000" opacity="0.12" filter="url(#bl2)"/>
<rect x="75.20" y="501.80" width="9.40" height="1.60" rx="2.63" ry="0.80" fill="#000" opacity="0.12" filter="url(#bl2)"/>
<rect x="86.50" y="501.80" width="9.40" height="1.60" rx="2.63" ry="0.80" fill="#000" opacity="0.12" filter="url(#bl2)"/>
<rect x="97.70" y="501.80" width="9.40" height="1.60" rx="2.63" ry="0.80" fill="#000" opacity="0.12" filter="url(#bl2)"/>
<rect x="108.90" y="501.80" width="9.40" height="1.60" rx="2.63" ry="0.80" fill="#000" opacity="0.12" filter="url(#bl2)"/>
<line x1="119.00" y1="495.50" x2="122.80" y2="495.50" stroke="#333" stroke-width="1"/>
<text x="125.00" y="498.30" font-size="7.4" textLength="10.4" lengthAdjust="spacingAndGlyphs">130</text>
<line x1="119.00" y1="505.50" x2="122.80" y2="505.50" stroke="#333" stroke-width="1"/>
<text x="125.00" y="508.30" font-size="7.4" textLength="10.4" lengthAdjust="spacingAndGlyphs">130</text>
<line x1="169.50" y1="453.00" x2="169.50" y2="526.80" stroke="#222" stroke-width="1.2"/>
<line x1="167.00" y1="526.50" x2="169.60" y2="526.50" stroke="#222" stroke-width="1"/>
<text x="164.20" y="528.70" font-size="6.7" text-anchor="end">0</text>
<line x1="167.00" y1="508.50" x2="169.60" y2="508.50" stroke="#222" stroke-width="1"/>
<text x="164.20" y="510.50" font-size="6.7" text-anchor="end">2</text>
<line x1="167.00" y1="489.50" x2="169.60" y2="489.50" stroke="#222" stroke-width="1"/>
<text x="164.20" y="492.30" font-size="6.7" text-anchor="end">4</text>
<line x1="167.00" y1="471.50" x2="169.60" y2="471.50" stroke="#222" stroke-width="1"/>
<text x="164.20" y="474.10" font-size="6.7" text-anchor="end">6</text>
<line x1="167.00" y1="453.50" x2="169.60" y2="453.50" stroke="#222" stroke-width="1"/>
<text x="164.20" y="455.90" font-size="6.7" text-anchor="end">8</text>
<line x1="169.60" y1="526.50" x2="285.80" y2="526.50" stroke="#222" stroke-width="1.2"/>
<text x="153.75" y="488.30" font-size="7.9" text-anchor="middle" textLength="79.5" lengthAdjust="spacingAndGlyphs" transform="rotate(-90 153.75 488.30)" class="yl">Fold change of pJak2 level</text>
<rect x="176.10" y="458.70" width="5.30" height="4.80" fill="#8b97c3"/>
<text x="184.60" y="463.60" font-size="7.2" textLength="9" lengthAdjust="spacingAndGlyphs">AA</text>
<rect x="176.10" y="469.10" width="5.30" height="4.80" fill="#e68a78"/>
<text x="184.60" y="474.00" font-size="7.2" textLength="8" lengthAdjust="spacingAndGlyphs">SS</text>
<line x1="182.50" y1="526.30" x2="182.50" y2="528.80" stroke="#222" stroke-width="1"/>
<text x="182.00" y="537.90" font-size="6.9" text-anchor="middle">0</text>
<line x1="212.50" y1="526.30" x2="212.50" y2="528.80" stroke="#222" stroke-width="1"/>
<text x="212.30" y="537.90" font-size="6.9" text-anchor="middle">1</text>
<line x1="242.50" y1="526.30" x2="242.50" y2="528.80" stroke="#222" stroke-width="1"/>
<text x="242.40" y="537.90" font-size="6.9" text-anchor="middle">3</text>
<line x1="272.50" y1="526.30" x2="272.50" y2="528.80" stroke="#222" stroke-width="1"/>
<text x="272.40" y="537.90" font-size="6.9" text-anchor="middle">10</text>
<text x="227.30" y="548.80" font-size="7.6" text-anchor="middle" textLength="34.5" lengthAdjust="spacingAndGlyphs">EPO (U/mL)</text>
<rect x="203.80" y="516.93" width="6.30" height="9.37" fill="#8b97c3"/>
<circle cx="204.80" cy="517.20" r="1.65" fill="#fff" fill-opacity="0.85" stroke="#1f2238" stroke-width="1.1"/>
<circle cx="207.20" cy="517.20" r="1.65" fill="#fff" fill-opacity="0.85" stroke="#1f2238" stroke-width="1.1"/>
<circle cx="209.50" cy="517.20" r="1.65" fill="#fff" fill-opacity="0.85" stroke="#1f2238" stroke-width="1.1"/>
<rect x="215.10" y="522.20" width="6.80" height="4.10" fill="#e68a78"/>
<circle cx="215.90" cy="522.70" r="1.65" fill="#fff" fill-opacity="0.85" stroke="#4a1c1c" stroke-width="1.1"/>
<circle cx="218.20" cy="521.00" r="1.65" fill="#fff" fill-opacity="0.85" stroke="#4a1c1c" stroke-width="1.1"/>
<circle cx="221.10" cy="521.80" r="1.65" fill="#fff" fill-opacity="0.85" stroke="#4a1c1c" stroke-width="1.1"/>
<rect x="233.50" y="501.91" width="6.30" height="24.39" fill="#8b97c3"/>
<circle cx="234.70" cy="502.20" r="1.65" fill="#fff" fill-opacity="0.85" stroke="#1f2238" stroke-width="1.1"/>
<circle cx="237.00" cy="497.30" r="1.65" fill="#fff" fill-opacity="0.85" stroke="#1f2238" stroke-width="1.1"/>
<circle cx="239.00" cy="499.80" r="1.65" fill="#fff" fill-opacity="0.85" stroke="#1f2238" stroke-width="1.1"/>
<rect x="245.10" y="511.28" width="6.80" height="15.01" fill="#e68a78"/>
<circle cx="247.80" cy="506.30" r="1.65" fill="#fff" fill-opacity="0.85" stroke="#4a1c1c" stroke-width="1.1"/>
<circle cx="250.50" cy="511.70" r="1.65" fill="#fff" fill-opacity="0.85" stroke="#4a1c1c" stroke-width="1.1"/>
<circle cx="247.80" cy="514.80" r="1.65" fill="#fff" fill-opacity="0.85" stroke="#4a1c1c" stroke-width="1.1"/>
<rect x="264.10" y="483.17" width="5.80" height="43.13" fill="#8b97c3"/>
<line x1="267.00" y1="477.16" x2="267.00" y2="483.17" stroke="#4c5a9a" stroke-width="1"/>
<line x1="265.20" y1="477.16" x2="268.80" y2="477.16" stroke="#4c5a9a" stroke-width="1"/>
<circle cx="266.90" cy="471.90" r="1.65" fill="#fff" fill-opacity="0.85" stroke="#1f2238" stroke-width="1.1"/>
<circle cx="266.90" cy="486.00" r="1.65" fill="#fff" fill-opacity="0.85" stroke="#1f2238" stroke-width="1.1"/>
<circle cx="266.90" cy="490.70" r="1.65" fill="#fff" fill-opacity="0.85" stroke="#1f2238" stroke-width="1.1"/>
<rect x="275.30" y="504.28" width="5.70" height="22.02" fill="#e68a78"/>
<circle cx="275.80" cy="505.80" r="1.65" fill="#fff" fill-opacity="0.85" stroke="#4a1c1c" stroke-width="1.1"/>
<circle cx="278.30" cy="501.40" r="1.65" fill="#fff" fill-opacity="0.85" stroke="#4a1c1c" stroke-width="1.1"/>
<circle cx="280.30" cy="503.60" r="1.65" fill="#fff" fill-opacity="0.85" stroke="#4a1c1c" stroke-width="1.1"/>
<circle cx="174.20" cy="526.30" r="1.5" fill="#fff" fill-opacity="0.85" stroke="#111" stroke-width="1.1"/>
<circle cx="176.80" cy="526.30" r="1.5" fill="#fff" fill-opacity="0.85" stroke="#111" stroke-width="1.1"/>
<circle cx="179.40" cy="526.30" r="1.5" fill="#fff" fill-opacity="0.85" stroke="#111" stroke-width="1.1"/>
<circle cx="184.50" cy="526.30" r="1.5" fill="#fff" fill-opacity="0.85" stroke="#111" stroke-width="1.1"/>
<circle cx="187.10" cy="526.30" r="1.5" fill="#fff" fill-opacity="0.85" stroke="#111" stroke-width="1.1"/>
<circle cx="189.70" cy="526.30" r="1.5" fill="#fff" fill-opacity="0.85" stroke="#111" stroke-width="1.1"/>
<line x1="207.20" y1="513.50" x2="217.80" y2="513.50" stroke="#2a2a2a" stroke-width="1.15"/>
<text x="212.50" y="514.40" font-size="7.5" text-anchor="middle" textLength="5.2" lengthAdjust="spacingAndGlyphs">**</text>
<line x1="237.30" y1="493.50" x2="248.30" y2="493.50" stroke="#2a2a2a" stroke-width="1.15"/>
<text x="242.80" y="494.40" font-size="7.5" text-anchor="middle" textLength="2.6" lengthAdjust="spacingAndGlyphs">*</text>
<line x1="266.90" y1="466.50" x2="278.30" y2="466.50" stroke="#2a2a2a" stroke-width="1.15"/>
<text x="272.60" y="467.90" font-size="7.5" text-anchor="middle" textLength="2.6" lengthAdjust="spacingAndGlyphs">*</text>
<text x="308.00" y="461.80" font-size="7.4" text-anchor="middle" textLength="13" lengthAdjust="spacingAndGlyphs">EPO</text>
<text x="307.90" y="469.80" font-size="7.4" text-anchor="middle" textLength="19.5" lengthAdjust="spacingAndGlyphs">(U/mL)</text>
<text x="334.30" y="456.80" font-size="7.4" text-anchor="middle">0</text>
<line x1="324.60" y1="461.50" x2="344.20" y2="461.50" stroke="#333" stroke-width="1.1"/>
<text x="361.20" y="456.80" font-size="7.4" text-anchor="middle">1</text>
<line x1="351.20" y1="461.50" x2="371.00" y2="461.50" stroke="#333" stroke-width="1.1"/>
<text x="387.20" y="456.80" font-size="7.4" text-anchor="middle">3</text>
<line x1="376.90" y1="461.50" x2="397.40" y2="461.50" stroke="#333" stroke-width="1.1"/>
<text x="413.80" y="456.80" font-size="7.4" text-anchor="middle">10</text>
<line x1="403.50" y1="461.50" x2="423.50" y2="461.50" stroke="#333" stroke-width="1.1"/>
<text x="329.20" y="470.00" font-size="7.4" text-anchor="middle" textLength="9" lengthAdjust="spacingAndGlyphs">AA</text>
<text x="341.40" y="470.00" font-size="7.4" text-anchor="middle" textLength="7.8" lengthAdjust="spacingAndGlyphs">SS</text>
<text x="355.00" y="470.00" font-size="7.4" text-anchor="middle" textLength="9" lengthAdjust="spacingAndGlyphs">AA</text>
<text x="368.20" y="470.00" font-size="7.4" text-anchor="middle" textLength="7.8" lengthAdjust="spacingAndGlyphs">SS</text>
<text x="381.40" y="470.00" font-size="7.4" text-anchor="middle" textLength="9" lengthAdjust="spacingAndGlyphs">AA</text>
<text x="394.20" y="470.00" font-size="7.4" text-anchor="middle" textLength="7.8" lengthAdjust="spacingAndGlyphs">SS</text>
<text x="407.80" y="470.00" font-size="7.4" text-anchor="middle" textLength="9" lengthAdjust="spacingAndGlyphs">AA</text>
<text x="420.40" y="470.00" font-size="7.4" text-anchor="middle" textLength="7.8" lengthAdjust="spacingAndGlyphs">SS</text>
<text x="317.70" y="486.30" font-size="7.4" text-anchor="end" textLength="13.2" lengthAdjust="spacingAndGlyphs">pErk</text>
<text x="317.70" y="505.50" font-size="7.4" text-anchor="end" textLength="9.4" lengthAdjust="spacingAndGlyphs">Erk</text>
<text x="317.70" y="524.60" font-size="7.4" text-anchor="end" textLength="14.8" lengthAdjust="spacingAndGlyphs">Actin</text>
<rect x="320.50" y="474.50" width="107.00" height="18.00" fill="#f7f7f7" stroke="#262626" stroke-width="1"/>
<rect x="320.50" y="492.80" width="107.00" height="2.60" fill="#8a8a8a"/>
<rect x="320.50" y="495.50" width="107.00" height="16.00" fill="#f6f6f6" stroke="#262626" stroke-width="1"/>
<rect x="320.50" y="513.50" width="107.00" height="17.00" fill="#f9f9f9" stroke="#262626" stroke-width="1"/>
<rect x="324.75" y="484.70" width="10.50" height="2.20" rx="2.94" ry="1.10" fill="#000" opacity="0.0" filter="url(#bl)"/>
<rect x="336.95" y="484.70" width="10.50" height="2.20" rx="2.94" ry="1.10" fill="#000" opacity="0.0" filter="url(#bl)"/>
<rect x="350.55" y="484.70" width="10.50" height="2.20" rx="2.94" ry="1.10" fill="#000" opacity="0.3" filter="url(#bl)"/>
<rect x="363.75" y="484.70" width="10.50" height="2.20" rx="2.94" ry="1.10" fill="#000" opacity="0.22" filter="url(#bl)"/>
<rect x="376.95" y="484.70" width="10.50" height="2.20" rx="2.94" ry="1.10" fill="#000" opacity="0.55" filter="url(#bl)"/>
<rect x="389.75" y="484.70" width="10.50" height="2.20" rx="2.94" ry="1.10" fill="#000" opacity="0.45" filter="url(#bl)"/>
<rect x="403.35" y="484.70" width="10.50" height="2.20" rx="2.94" ry="1.10" fill="#000" opacity="0.65" filter="url(#bl)"/>
<rect x="415.95" y="484.70" width="10.50" height="2.20" rx="2.94" ry="1.10" fill="#000" opacity="0.55" filter="url(#bl)"/>
<rect x="324.75" y="481.20" width="10.50" height="2.60" rx="2.94" ry="1.30" fill="#000" opacity="0.0" filter="url(#bl2)"/>
<rect x="336.95" y="481.20" width="10.50" height="2.60" rx="2.94" ry="1.30" fill="#000" opacity="0.0" filter="url(#bl2)"/>
<rect x="350.55" y="481.20" width="10.50" height="2.60" rx="2.94" ry="1.30" fill="#000" opacity="0.06" filter="url(#bl2)"/>
<rect x="363.75" y="481.20" width="10.50" height="2.60" rx="2.94" ry="1.30" fill="#000" opacity="0.05" filter="url(#bl2)"/>
<rect x="376.95" y="481.20" width="10.50" height="2.60" rx="2.94" ry="1.30" fill="#000" opacity="0.12" filter="url(#bl2)"/>
<rect x="389.75" y="481.20" width="10.50" height="2.60" rx="2.94" ry="1.30" fill="#000" opacity="0.1" filter="url(#bl2)"/>
<rect x="403.35" y="481.20" width="10.50" height="2.60" rx="2.94" ry="1.30" fill="#000" opacity="0.15" filter="url(#bl2)"/>
<rect x="415.95" y="481.20" width="10.50" height="2.60" rx="2.94" ry="1.30" fill="#000" opacity="0.12" filter="url(#bl2)"/>
<rect x="325.00" y="501.20" width="10.00" height="2.20" rx="2.80" ry="1.10" fill="#000" opacity="0.32" filter="url(#bl)"/>
<rect x="337.20" y="501.20" width="10.00" height="2.20" rx="2.80" ry="1.10" fill="#000" opacity="0.25" filter="url(#bl)"/>
<rect x="350.80" y="501.20" width="10.00" height="2.20" rx="2.80" ry="1.10" fill="#000" opacity="0.32" filter="url(#bl)"/>
<rect x="364.00" y="501.20" width="10.00" height="2.20" rx="2.80" ry="1.10" fill="#000" opacity="0.28" filter="url(#bl)"/>
<rect x="377.20" y="501.20" width="10.00" height="2.20" rx="2.80" ry="1.10" fill="#000" opacity="0.28" filter="url(#bl)"/>
<rect x="390.00" y="501.20" width="10.00" height="2.20" rx="2.80" ry="1.10" fill="#000" opacity="0.22" filter="url(#bl)"/>
<rect x="403.60" y="501.20" width="10.00" height="2.20" rx="2.80" ry="1.10" fill="#000" opacity="0.14" filter="url(#bl)"/>
<rect x="416.20" y="501.20" width="10.00" height="2.20" rx="2.80" ry="1.10" fill="#000" opacity="0.2" filter="url(#bl)"/>
<rect x="325.00" y="505.30" width="10.00" height="2.40" rx="2.80" ry="1.20" fill="#000" opacity="0.55" filter="url(#bl)"/>
<rect x="337.20" y="505.30" width="10.00" height="2.40" rx="2.80" ry="1.20" fill="#000" opacity="0.75" filter="url(#bl)"/>
<rect x="350.80" y="505.30" width="10.00" height="2.40" rx="2.80" ry="1.20" fill="#000" opacity="0.35" filter="url(#bl)"/>
<rect x="364.00" y="505.30" width="10.00" height="2.40" rx="2.80" ry="1.20" fill="#000" opacity="0.85" filter="url(#bl)"/>
<rect x="377.20" y="505.30" width="10.00" height="2.40" rx="2.80" ry="1.20" fill="#000" opacity="0.3" filter="url(#bl)"/>
<rect x="390.00" y="505.30" width="10.00" height="2.40" rx="2.80" ry="1.20" fill="#000" opacity="0.8" filter="url(#bl)"/>
<rect x="403.60" y="505.30" width="10.00" height="2.40" rx="2.80" ry="1.20" fill="#000" opacity="0.15" filter="url(#bl)"/>
<rect x="416.20" y="505.30" width="10.00" height="2.40" rx="2.80" ry="1.20" fill="#000" opacity="0.6" filter="url(#bl)"/>
<rect x="325.00" y="520.75" width="10.00" height="2.50" rx="2.80" ry="1.25" fill="#000" opacity="0.92" filter="url(#bl)"/>
<rect x="337.20" y="520.75" width="10.00" height="2.50" rx="2.80" ry="1.25" fill="#000" opacity="0.9" filter="url(#bl)"/>
<rect x="350.80" y="520.75" width="10.00" height="2.50" rx="2.80" ry="1.25" fill="#000" opacity="0.7" filter="url(#bl)"/>
<rect x="364.00" y="520.75" width="10.00" height="2.50" rx="2.80" ry="1.25" fill="#000" opacity="0.72" filter="url(#bl)"/>
<rect x="377.20" y="520.75" width="10.00" height="2.50" rx="2.80" ry="1.25" fill="#000" opacity="0.65" filter="url(#bl)"/>
<rect x="390.00" y="520.75" width="10.00" height="2.50" rx="2.80" ry="1.25" fill="#000" opacity="0.88" filter="url(#bl)"/>
<rect x="403.60" y="520.75" width="10.00" height="2.50" rx="2.80" ry="1.25" fill="#000" opacity="0.68" filter="url(#bl)"/>
<rect x="416.20" y="520.75" width="10.00" height="2.50" rx="2.80" ry="1.25" fill="#000" opacity="0.6" filter="url(#bl)"/>
<line x1="427.60" y1="477.50" x2="431.20" y2="477.50" stroke="#333" stroke-width="1"/>
<text x="433.60" y="480.30" font-size="7.4" textLength="7.2" lengthAdjust="spacingAndGlyphs">55</text>
<line x1="427.60" y1="496.50" x2="431.20" y2="496.50" stroke="#333" stroke-width="1"/>
<text x="433.60" y="499.20" font-size="7.4" textLength="7.2" lengthAdjust="spacingAndGlyphs">55</text>
<line x1="427.60" y1="516.50" x2="431.20" y2="516.50" stroke="#333" stroke-width="1"/>
<text x="433.60" y="519.10" font-size="7.4" textLength="7.2" lengthAdjust="spacingAndGlyphs">55</text>
<line x1="480.50" y1="453.20" x2="480.50" y2="526.80" stroke="#222" stroke-width="1.2"/>
<line x1="477.70" y1="526.50" x2="480.30" y2="526.50" stroke="#222" stroke-width="1"/>
<text x="474.60" y="528.70" font-size="6.7" text-anchor="end">0</text>
<line x1="477.70" y1="508.50" x2="480.30" y2="508.50" stroke="#222" stroke-width="1"/>
<text x="474.60" y="510.55" font-size="6.7" text-anchor="end">0.5</text>
<line x1="477.70" y1="489.50" x2="480.30" y2="489.50" stroke="#222" stroke-width="1"/>
<text x="474.60" y="492.40" font-size="6.7" text-anchor="end">1.0</text>
<line x1="477.70" y1="471.50" x2="480.30" y2="471.50" stroke="#222" stroke-width="1"/>
<text x="474.60" y="474.25" font-size="6.7" text-anchor="end">1.5</text>
<line x1="477.70" y1="453.50" x2="480.30" y2="453.50" stroke="#222" stroke-width="1"/>
<text x="474.60" y="456.10" font-size="6.7" text-anchor="end">2.0</text>
<line x1="480.30" y1="526.50" x2="512.70" y2="526.50" stroke="#222" stroke-width="1.2"/>
<text x="459.45" y="488.80" font-size="7.9" text-anchor="middle" textLength="74" lengthAdjust="spacingAndGlyphs" transform="rotate(-90 459.45 488.80)" class="yl">Relative Erk protein level</text>
<rect x="485.50" y="490.00" width="9.00" height="36.30" fill="#8b97c3"/>
<rect x="499.30" y="474.39" width="8.70" height="51.91" fill="#e68a78"/>
<line x1="503.60" y1="470.50" x2="503.60" y2="474.39" stroke="#c0504a" stroke-width="1"/>
<line x1="501.80" y1="470.50" x2="505.40" y2="470.50" stroke="#c0504a" stroke-width="1"/>
<circle cx="486.80" cy="490.00" r="1.7" fill="#fff" fill-opacity="0.85" stroke="#1f2238" stroke-width="1.1"/>
<circle cx="489.80" cy="490.00" r="1.7" fill="#fff" fill-opacity="0.85" stroke="#1f2238" stroke-width="1.1"/>
<circle cx="492.80" cy="490.00" r="1.7" fill="#fff" fill-opacity="0.85" stroke="#1f2238" stroke-width="1.1"/>
<circle cx="500.80" cy="478.50" r="1.7" fill="#fff" fill-opacity="0.85" stroke="#4a1c1c" stroke-width="1.1"/>
<circle cx="503.80" cy="466.50" r="1.7" fill="#fff" fill-opacity="0.85" stroke="#4a1c1c" stroke-width="1.1"/>
<circle cx="506.70" cy="476.30" r="1.7" fill="#fff" fill-opacity="0.85" stroke="#4a1c1c" stroke-width="1.1"/>
<line x1="490.50" y1="526.30" x2="490.50" y2="528.80" stroke="#222" stroke-width="1"/>
<text x="490.00" y="538.60" font-size="7.2" text-anchor="middle" textLength="9" lengthAdjust="spacingAndGlyphs">AA</text>
<line x1="503.50" y1="526.30" x2="503.50" y2="528.80" stroke="#222" stroke-width="1"/>
<text x="503.70" y="538.60" font-size="7.2" text-anchor="middle" textLength="7.8" lengthAdjust="spacingAndGlyphs">SS</text>
<line x1="489.40" y1="461.50" x2="503.20" y2="461.50" stroke="#2a2a2a" stroke-width="1.15"/>
<text x="496.30" y="462.20" font-size="7.5" text-anchor="middle" textLength="5.2" lengthAdjust="spacingAndGlyphs">**</text>
<line x1="28.50" y1="591.20" x2="28.50" y2="666.70" stroke="#222" stroke-width="1.2"/>
<line x1="26.20" y1="666.50" x2="28.80" y2="666.50" stroke="#222" stroke-width="1"/>
<text x="24.00" y="668.60" font-size="6.7" text-anchor="end">0</text>
<line x1="26.20" y1="651.50" x2="28.80" y2="651.50" stroke="#222" stroke-width="1"/>
<text x="24.00" y="653.70" font-size="6.7" text-anchor="end">1</text>
<line x1="26.20" y1="636.50" x2="28.80" y2="636.50" stroke="#222" stroke-width="1"/>
<text x="24.00" y="638.80" font-size="6.7" text-anchor="end">2</text>
<line x1="26.20" y1="621.50" x2="28.80" y2="621.50" stroke="#222" stroke-width="1"/>
<text x="24.00" y="623.90" font-size="6.7" text-anchor="end">3</text>
<line x1="26.20" y1="606.50" x2="28.80" y2="606.50" stroke="#222" stroke-width="1"/>
<text x="24.00" y="609.00" font-size="6.7" text-anchor="end">4</text>
<line x1="26.20" y1="591.50" x2="28.80" y2="591.50" stroke="#222" stroke-width="1"/>
<text x="24.00" y="594.10" font-size="6.7" text-anchor="end">5</text>
<line x1="28.80" y1="666.50" x2="145.70" y2="666.50" stroke="#222" stroke-width="1.2"/>
<text x="13.30" y="627.80" font-size="7.9" text-anchor="middle" textLength="74.5" lengthAdjust="spacingAndGlyphs" transform="rotate(-90 13.30 627.80)" class="yl">Fold change of pErk level</text>
<rect x="34.90" y="596.40" width="6.00" height="5.70" fill="#8b97c3"/>
<text x="44.10" y="602.20" font-size="7.2" textLength="8.8" lengthAdjust="spacingAndGlyphs">AA</text>
<rect x="34.90" y="607.80" width="6.00" height="5.70" fill="#e68a78"/>
<text x="44.10" y="613.60" font-size="7.2" textLength="7.8" lengthAdjust="spacingAndGlyphs">SS</text>
<line x1="42.50" y1="666.20" x2="42.50" y2="668.70" stroke="#222" stroke-width="1"/>
<text x="42.20" y="678.20" font-size="6.9" text-anchor="middle">0</text>
<line x1="72.50" y1="666.20" x2="72.50" y2="668.70" stroke="#222" stroke-width="1"/>
<text x="72.80" y="678.20" font-size="6.9" text-anchor="middle">1</text>
<line x1="103.50" y1="666.20" x2="103.50" y2="668.70" stroke="#222" stroke-width="1"/>
<text x="103.10" y="678.20" font-size="6.9" text-anchor="middle">3</text>
<line x1="133.50" y1="666.20" x2="133.50" y2="668.70" stroke="#222" stroke-width="1"/>
<text x="133.80" y="678.20" font-size="6.9" text-anchor="middle">10</text>
<text x="88.70" y="687.60" font-size="7.6" text-anchor="middle" textLength="34" lengthAdjust="spacingAndGlyphs">EPO (U/mL)</text>
<rect x="64.30" y="651.30" width="6.30" height="14.90" fill="#8b97c3"/>
<circle cx="65.10" cy="651.20" r="1.65" fill="#fff" fill-opacity="0.85" stroke="#1f2238" stroke-width="1.1"/>
<circle cx="67.60" cy="651.20" r="1.65" fill="#fff" fill-opacity="0.85" stroke="#1f2238" stroke-width="1.1"/>
<circle cx="70.00" cy="651.20" r="1.65" fill="#fff" fill-opacity="0.85" stroke="#1f2238" stroke-width="1.1"/>
<rect x="75.30" y="663.22" width="6.40" height="2.98" fill="#e68a78"/>
<circle cx="76.60" cy="664.20" r="1.65" fill="#fff" fill-opacity="0.85" stroke="#4a1c1c" stroke-width="1.1"/>
<circle cx="78.50" cy="662.90" r="1.65" fill="#fff" fill-opacity="0.85" stroke="#4a1c1c" stroke-width="1.1"/>
<circle cx="80.80" cy="663.30" r="1.65" fill="#fff" fill-opacity="0.85" stroke="#4a1c1c" stroke-width="1.1"/>
<rect x="94.20" y="638.63" width="6.70" height="27.57" fill="#8b97c3"/>
<line x1="97.55" y1="633.42" x2="97.55" y2="638.63" stroke="#4c5a9a" stroke-width="1"/>
<line x1="95.75" y1="633.42" x2="99.35" y2="633.42" stroke="#4c5a9a" stroke-width="1"/>
<circle cx="95.20" cy="639.20" r="1.65" fill="#fff" fill-opacity="0.85" stroke="#1f2238" stroke-width="1.1"/>
<circle cx="97.70" cy="633.00" r="1.65" fill="#fff" fill-opacity="0.85" stroke="#1f2238" stroke-width="1.1"/>
<circle cx="99.90" cy="636.40" r="1.65" fill="#fff" fill-opacity="0.85" stroke="#1f2238" stroke-width="1.1"/>
<rect x="106.00" y="660.24" width="6.20" height="5.96" fill="#e68a78"/>
<circle cx="107.00" cy="659.90" r="1.65" fill="#fff" fill-opacity="0.85" stroke="#4a1c1c" stroke-width="1.1"/>
<circle cx="109.10" cy="657.00" r="1.65" fill="#fff" fill-opacity="0.85" stroke="#4a1c1c" stroke-width="1.1"/>
<circle cx="111.20" cy="658.00" r="1.65" fill="#fff" fill-opacity="0.85" stroke="#4a1c1c" stroke-width="1.1"/>
<rect x="125.40" y="614.05" width="6.30" height="52.15" fill="#8b97c3"/>
<line x1="128.55" y1="606.60" x2="128.55" y2="614.05" stroke="#4c5a9a" stroke-width="1"/>
<line x1="126.75" y1="606.60" x2="130.35" y2="606.60" stroke="#4c5a9a" stroke-width="1"/>
<circle cx="127.80" cy="607.70" r="1.65" fill="#fff" fill-opacity="0.85" stroke="#1f2238" stroke-width="1.1"/>
<circle cx="130.00" cy="607.70" r="1.65" fill="#fff" fill-opacity="0.85" stroke="#1f2238" stroke-width="1.1"/>
<circle cx="128.20" cy="624.50" r="1.65" fill="#fff" fill-opacity="0.85" stroke="#1f2238" stroke-width="1.1"/>
<rect x="136.70" y="649.81" width="6.40" height="16.39" fill="#e68a78"/>
<circle cx="139.50" cy="647.40" r="1.65" fill="#fff" fill-opacity="0.85" stroke="#4a1c1c" stroke-width="1.1"/>
<circle cx="141.70" cy="647.10" r="1.65" fill="#fff" fill-opacity="0.85" stroke="#4a1c1c" stroke-width="1.1"/>
<circle cx="140.00" cy="651.70" r="1.65" fill="#fff" fill-opacity="0.85" stroke="#4a1c1c" stroke-width="1.1"/>
<circle cx="33.30" cy="666.20" r="1.5" fill="#fff" fill-opacity="0.85" stroke="#111" stroke-width="1.1"/>
<circle cx="35.80" cy="666.20" r="1.5" fill="#fff" fill-opacity="0.85" stroke="#111" stroke-width="1.1"/>
<circle cx="38.40" cy="666.20" r="1.5" fill="#fff" fill-opacity="0.85" stroke="#111" stroke-width="1.1"/>
<circle cx="45.40" cy="666.20" r="1.5" fill="#fff" fill-opacity="0.85" stroke="#111" stroke-width="1.1"/>
<circle cx="47.90" cy="666.20" r="1.5" fill="#fff" fill-opacity="0.85" stroke="#111" stroke-width="1.1"/>
<circle cx="50.50" cy="666.20" r="1.5" fill="#fff" fill-opacity="0.85" stroke="#111" stroke-width="1.1"/>
<line x1="67.70" y1="648.50" x2="77.90" y2="648.50" stroke="#2a2a2a" stroke-width="1.15"/>
<text x="72.80" y="649.20" font-size="7.5" text-anchor="middle" textLength="7.800000000000001" lengthAdjust="spacingAndGlyphs">***</text>
<line x1="98.00" y1="629.50" x2="108.80" y2="629.50" stroke="#2a2a2a" stroke-width="1.15"/>
<text x="103.40" y="630.20" font-size="7.5" text-anchor="middle" textLength="7.800000000000001" lengthAdjust="spacingAndGlyphs">***</text>
<line x1="128.20" y1="603.50" x2="139.50" y2="603.50" stroke="#2a2a2a" stroke-width="1.15"/>
<text x="133.85" y="605.00" font-size="7.5" text-anchor="middle" textLength="5.2" lengthAdjust="spacingAndGlyphs">**</text>
<text x="184.80" y="603.70" font-size="7.4" text-anchor="middle" textLength="9" lengthAdjust="spacingAndGlyphs">AA</text>
<text x="198.50" y="603.70" font-size="7.4" text-anchor="middle" textLength="7.8" lengthAdjust="spacingAndGlyphs">SS</text>
<text x="175.40" y="616.50" font-size="7.4" text-anchor="end" textLength="15" lengthAdjust="spacingAndGlyphs">EpoR</text>
<text x="175.80" y="632.60" font-size="7.4" text-anchor="end" textLength="14.8" lengthAdjust="spacingAndGlyphs">Actin</text>
<rect x="178.50" y="606.50" width="26.00" height="14.00" fill="#d2d2d2" stroke="#262626" stroke-width="1"/>
<rect x="178.70" y="620.30" width="25.60" height="2.60" fill="#9a9a9a"/>
<rect x="178.50" y="623.50" width="26.00" height="14.00" fill="#f2f2f2" stroke="#262626" stroke-width="1"/>
<rect x="179.30" y="609.60" width="11.80" height="3.40" rx="3.30" ry="1.70" fill="#000" opacity="0.45" filter="url(#bl)"/>
<rect x="179.30" y="615.30" width="11.80" height="3.40" rx="3.30" ry="1.70" fill="#000" opacity="0.15" filter="url(#bl)"/>
<rect x="192.50" y="609.60" width="11.80" height="3.40" rx="3.30" ry="1.70" fill="#000" opacity="0.45" filter="url(#bl)"/>
<rect x="192.50" y="615.30" width="11.80" height="3.40" rx="3.30" ry="1.70" fill="#000" opacity="0.15" filter="url(#bl)"/>
<rect x="190.4" y="607" width="1.6" height="13" fill="#f0f0f0" opacity="0.55" filter="url(#bl)"/>
<rect x="180.65" y="629.20" width="9.50" height="2.40" rx="2.66" ry="1.20" fill="#000" opacity="0.95" filter="url(#bl)"/>
<rect x="193.45" y="629.20" width="9.50" height="2.40" rx="2.66" ry="1.20" fill="#000" opacity="0.95" filter="url(#bl)"/>
<line x1="204.60" y1="616.50" x2="208.00" y2="616.50" stroke="#333" stroke-width="1"/>
<text x="210.60" y="619.00" font-size="7.4" textLength="7.2" lengthAdjust="spacingAndGlyphs">70</text>
<line x1="204.60" y1="626.50" x2="208.00" y2="626.50" stroke="#333" stroke-width="1"/>
<text x="210.60" y="629.40" font-size="7.4" textLength="7.2" lengthAdjust="spacingAndGlyphs">55</text>
<line x1="256.50" y1="591.90" x2="256.50" y2="666.40" stroke="#222" stroke-width="1.2"/>
<line x1="254.20" y1="665.50" x2="256.80" y2="665.50" stroke="#222" stroke-width="1"/>
<text x="251.60" y="668.30" font-size="6.7" text-anchor="end">0</text>
<line x1="254.20" y1="641.50" x2="256.80" y2="641.50" stroke="#222" stroke-width="1"/>
<text x="251.60" y="643.80" font-size="6.7" text-anchor="end">0.5</text>
<line x1="254.20" y1="616.50" x2="256.80" y2="616.50" stroke="#222" stroke-width="1"/>
<text x="251.60" y="619.30" font-size="6.7" text-anchor="end">1.0</text>
<line x1="254.20" y1="592.50" x2="256.80" y2="592.50" stroke="#222" stroke-width="1"/>
<text x="251.60" y="594.80" font-size="6.7" text-anchor="end">1.5</text>
<line x1="256.80" y1="665.50" x2="290.30" y2="665.50" stroke="#222" stroke-width="1.2"/>
<text x="236.85" y="627.30" font-size="7.9" text-anchor="middle" textLength="79.2" lengthAdjust="spacingAndGlyphs" transform="rotate(-90 236.85 627.30)" class="yl">Relative EpoR protein level</text>
<rect x="262.50" y="616.90" width="8.50" height="49.00" fill="#8b97c3"/>
<rect x="277.00" y="614.94" width="8.40" height="50.96" fill="#e68a78"/>
<circle cx="263.80" cy="616.90" r="1.6" fill="#fff" fill-opacity="0.85" stroke="#1f2238" stroke-width="1.1"/>
<circle cx="266.70" cy="616.90" r="1.6" fill="#fff" fill-opacity="0.85" stroke="#1f2238" stroke-width="1.1"/>
<circle cx="269.60" cy="616.90" r="1.6" fill="#fff" fill-opacity="0.85" stroke="#1f2238" stroke-width="1.1"/>
<circle cx="279.60" cy="613.50" r="1.6" fill="#fff" fill-opacity="0.85" stroke="#4a1c1c" stroke-width="1.1"/>
<circle cx="284.00" cy="611.00" r="1.6" fill="#fff" fill-opacity="0.85" stroke="#4a1c1c" stroke-width="1.1"/>
<circle cx="281.00" cy="619.60" r="1.6" fill="#fff" fill-opacity="0.85" stroke="#4a1c1c" stroke-width="1.1"/>
<line x1="266.50" y1="665.90" x2="266.50" y2="668.30" stroke="#222" stroke-width="1"/>
<text x="266.70" y="678.60" font-size="7.2" text-anchor="middle" textLength="9" lengthAdjust="spacingAndGlyphs">AA</text>
<line x1="281.50" y1="665.90" x2="281.50" y2="668.30" stroke="#222" stroke-width="1"/>
<text x="281.20" y="678.60" font-size="7.2" text-anchor="middle" textLength="7.8" lengthAdjust="spacingAndGlyphs">SS</text>
<line x1="266.30" y1="606.50" x2="280.20" y2="606.50" stroke="#2a2a2a" stroke-width="1.15"/>
<text x="273.25" y="604.20" font-size="6.6" text-anchor="middle" textLength="11.5" lengthAdjust="spacingAndGlyphs">N.S.</text>
<text x="366.90" y="584.00" font-size="8.3" text-anchor="middle" textLength="52" lengthAdjust="spacingAndGlyphs">Erythroblasts</text>
<line x1="335.50" y1="591.15" x2="335.50" y2="666.70" stroke="#222" stroke-width="1.2"/>
<line x1="332.60" y1="666.50" x2="335.20" y2="666.50" stroke="#222" stroke-width="1"/>
<text x="330.70" y="668.60" font-size="6.7" text-anchor="end">0</text>
<line x1="332.60" y1="641.50" x2="335.20" y2="641.50" stroke="#222" stroke-width="1"/>
<text x="330.70" y="643.75" font-size="6.7" text-anchor="end">1</text>
<line x1="332.60" y1="616.50" x2="335.20" y2="616.50" stroke="#222" stroke-width="1"/>
<text x="330.70" y="618.90" font-size="6.7" text-anchor="end">2</text>
<line x1="332.60" y1="591.50" x2="335.20" y2="591.50" stroke="#222" stroke-width="1"/>
<text x="330.70" y="594.05" font-size="6.7" text-anchor="end">3</text>
<line x1="335.20" y1="666.50" x2="395.70" y2="666.50" stroke="#222" stroke-width="1.2"/>
<text x="310.40" y="627.50" font-size="7.9" text-anchor="middle" textLength="84.5" lengthAdjust="spacingAndGlyphs" transform="rotate(-90 310.40 627.50)" class="yl">Fold change of erythroblasts</text>
<text x="320.90" y="628.00" font-size="7.9" text-anchor="middle" textLength="43.5" lengthAdjust="spacingAndGlyphs" transform="rotate(-90 320.90 628.00)" class="yl">number in BM</text>
<rect x="340.40" y="641.85" width="7.20" height="24.35" fill="#8b97c3"/>
<line x1="344.50" y1="666.20" x2="344.50" y2="668.70" stroke="#222" stroke-width="1"/>
<rect x="352.70" y="615.26" width="7.00" height="50.94" fill="#e68a78"/>
<line x1="356.20" y1="609.40" x2="356.20" y2="615.26" stroke="#c0504a" stroke-width="1"/>
<line x1="354.40" y1="609.40" x2="358.00" y2="609.40" stroke="#c0504a" stroke-width="1"/>
<line x1="356.50" y1="666.20" x2="356.50" y2="668.70" stroke="#222" stroke-width="1"/>
<rect x="373.20" y="641.85" width="7.00" height="24.35" fill="#8b97c3"/>
<line x1="376.50" y1="666.20" x2="376.50" y2="668.70" stroke="#222" stroke-width="1"/>
<rect x="385.60" y="633.15" width="7.00" height="33.05" fill="#e68a78"/>
<line x1="389.50" y1="666.20" x2="389.50" y2="668.70" stroke="#222" stroke-width="1"/>
<circle cx="341.20" cy="638.60" r="1.8" fill="#fff" fill-opacity="0.85" stroke="#1f2238" stroke-width="1.1"/>
<circle cx="344.10" cy="638.60" r="1.8" fill="#fff" fill-opacity="0.85" stroke="#1f2238" stroke-width="1.1"/>
<circle cx="346.60" cy="638.40" r="1.8" fill="#fff" fill-opacity="0.85" stroke="#1f2238" stroke-width="1.1"/>
<circle cx="342.30" cy="641.70" r="1.8" fill="#fff" fill-opacity="0.85" stroke="#1f2238" stroke-width="1.1"/>
<circle cx="344.70" cy="644.60" r="1.8" fill="#fff" fill-opacity="0.85" stroke="#1f2238" stroke-width="1.1"/>
<circle cx="355.80" cy="606.20" r="1.8" fill="#fff" fill-opacity="0.85" stroke="#4a1c1c" stroke-width="1.1"/>
<circle cx="353.30" cy="612.50" r="1.8" fill="#fff" fill-opacity="0.85" stroke="#4a1c1c" stroke-width="1.1"/>
<circle cx="356.50" cy="614.60" r="1.8" fill="#fff" fill-opacity="0.85" stroke="#4a1c1c" stroke-width="1.1"/>
<circle cx="359.10" cy="613.70" r="1.8" fill="#fff" fill-opacity="0.85" stroke="#4a1c1c" stroke-width="1.1"/>
<circle cx="358.80" cy="617.50" r="1.8" fill="#fff" fill-opacity="0.85" stroke="#4a1c1c" stroke-width="1.1"/>
<circle cx="353.30" cy="619.80" r="1.8" fill="#fff" fill-opacity="0.85" stroke="#4a1c1c" stroke-width="1.1"/>
<circle cx="374.10" cy="639.40" r="1.8" fill="#fff" fill-opacity="0.85" stroke="#1f2238" stroke-width="1.1"/>
<circle cx="376.60" cy="638.30" r="1.8" fill="#fff" fill-opacity="0.85" stroke="#1f2238" stroke-width="1.1"/>
<circle cx="379.30" cy="636.30" r="1.8" fill="#fff" fill-opacity="0.85" stroke="#1f2238" stroke-width="1.1"/>
<circle cx="379.30" cy="640.90" r="1.8" fill="#fff" fill-opacity="0.85" stroke="#1f2238" stroke-width="1.1"/>
<circle cx="376.40" cy="644.60" r="1.8" fill="#fff" fill-opacity="0.85" stroke="#1f2238" stroke-width="1.1"/>
<circle cx="376.40" cy="648.10" r="1.8" fill="#fff" fill-opacity="0.85" stroke="#1f2238" stroke-width="1.1"/>
<circle cx="386.20" cy="626.40" r="1.8" fill="#fff" fill-opacity="0.85" stroke="#4a1c1c" stroke-width="1.1"/>
<circle cx="389.10" cy="627.50" r="1.8" fill="#fff" fill-opacity="0.85" stroke="#4a1c1c" stroke-width="1.1"/>
<circle cx="386.20" cy="632.20" r="1.8" fill="#fff" fill-opacity="0.85" stroke="#4a1c1c" stroke-width="1.1"/>
<circle cx="389.10" cy="634.80" r="1.8" fill="#fff" fill-opacity="0.85" stroke="#4a1c1c" stroke-width="1.1"/>
<circle cx="391.60" cy="634.00" r="1.8" fill="#fff" fill-opacity="0.85" stroke="#4a1c1c" stroke-width="1.1"/>
<circle cx="388.80" cy="638.60" r="1.8" fill="#fff" fill-opacity="0.85" stroke="#4a1c1c" stroke-width="1.1"/>
<line x1="344.10" y1="602.50" x2="357.30" y2="602.50" stroke="#2a2a2a" stroke-width="1.15"/>
<text x="350.70" y="603.40" font-size="7.5" text-anchor="middle" textLength="7.800000000000001" lengthAdjust="spacingAndGlyphs">***</text>
<line x1="376.20" y1="621.50" x2="389.70" y2="621.50" stroke="#2a2a2a" stroke-width="1.15"/>
<text x="382.95" y="622.70" font-size="7.5" text-anchor="middle" textLength="5.2" lengthAdjust="spacingAndGlyphs">**</text>
<text x="347.00" y="675.40" font-size="7.3" text-anchor="end" textLength="12.5" lengthAdjust="spacingAndGlyphs" transform="rotate(-45 347.00 675.40)">PBS</text>
<text x="359.20" y="675.40" font-size="7.3" text-anchor="end" textLength="12.5" lengthAdjust="spacingAndGlyphs" transform="rotate(-45 359.20 675.40)">EPO</text>
<text x="379.70" y="675.40" font-size="7.3" text-anchor="end" textLength="12.5" lengthAdjust="spacingAndGlyphs" transform="rotate(-45 379.70 675.40)">PBS</text>
<text x="392.10" y="675.40" font-size="7.3" text-anchor="end" textLength="12.5" lengthAdjust="spacingAndGlyphs" transform="rotate(-45 392.10 675.40)">EPO</text>
<line x1="335.90" y1="688.50" x2="359.60" y2="688.50" stroke="#333" stroke-width="1.1"/>
<text x="347.75" y="698.00" font-size="7.2" text-anchor="middle" textLength="9" lengthAdjust="spacingAndGlyphs">AA</text>
<line x1="370.20" y1="688.50" x2="394.10" y2="688.50" stroke="#333" stroke-width="1.1"/>
<text x="382.15" y="698.00" font-size="7.2" text-anchor="middle" textLength="7.8" lengthAdjust="spacingAndGlyphs">SS</text>
<text x="473.40" y="584.00" font-size="8.3" text-anchor="middle" textLength="26.2" lengthAdjust="spacingAndGlyphs">CFU-E</text>
<line x1="441.50" y1="591.15" x2="441.50" y2="666.70" stroke="#222" stroke-width="1.2"/>
<line x1="439.20" y1="666.50" x2="441.80" y2="666.50" stroke="#222" stroke-width="1"/>
<text x="437.30" y="668.60" font-size="6.7" text-anchor="end">0</text>
<line x1="439.20" y1="641.50" x2="441.80" y2="641.50" stroke="#222" stroke-width="1"/>
<text x="437.30" y="643.75" font-size="6.7" text-anchor="end">1</text>
<line x1="439.20" y1="616.50" x2="441.80" y2="616.50" stroke="#222" stroke-width="1"/>
<text x="437.30" y="618.90" font-size="6.7" text-anchor="end">2</text>
<line x1="439.20" y1="591.50" x2="441.80" y2="591.50" stroke="#222" stroke-width="1"/>
<text x="437.30" y="594.05" font-size="6.7" text-anchor="end">3</text>
<line x1="441.80" y1="666.50" x2="502.30" y2="666.50" stroke="#222" stroke-width="1.2"/>
<text x="417.00" y="627.50" font-size="7.9" text-anchor="middle" textLength="84.5" lengthAdjust="spacingAndGlyphs" transform="rotate(-90 417.00 627.50)" class="yl">Fold change of CFU-E colony</text>
<text x="427.90" y="628.00" font-size="7.9" text-anchor="middle" textLength="60" lengthAdjust="spacingAndGlyphs" transform="rotate(-90 427.90 628.00)" class="yl">number in BM cells</text>
<rect x="447.40" y="641.85" width="7.10" height="24.35" fill="#8b97c3"/>
<line x1="450.50" y1="666.20" x2="450.50" y2="668.70" stroke="#222" stroke-width="1"/>
<rect x="459.20" y="615.26" width="7.50" height="50.94" fill="#e68a78"/>
<line x1="462.50" y1="666.20" x2="462.50" y2="668.70" stroke="#222" stroke-width="1"/>
<rect x="480.20" y="641.85" width="6.90" height="24.35" fill="#8b97c3"/>
<line x1="483.50" y1="666.20" x2="483.50" y2="668.70" stroke="#222" stroke-width="1"/>
<rect x="492.60" y="629.67" width="6.90" height="36.53" fill="#e68a78"/>
<line x1="496.50" y1="666.20" x2="496.50" y2="668.70" stroke="#222" stroke-width="1"/>
<circle cx="447.80" cy="641.70" r="1.8" fill="#fff" fill-opacity="0.85" stroke="#1f2238" stroke-width="1.1"/>
<circle cx="450.20" cy="639.40" r="1.8" fill="#fff" fill-opacity="0.85" stroke="#1f2238" stroke-width="1.1"/>
<circle cx="453.20" cy="639.80" r="1.8" fill="#fff" fill-opacity="0.85" stroke="#1f2238" stroke-width="1.1"/>
<circle cx="448.80" cy="642.50" r="1.8" fill="#fff" fill-opacity="0.85" stroke="#1f2238" stroke-width="1.1"/>
<circle cx="453.20" cy="643.20" r="1.8" fill="#fff" fill-opacity="0.85" stroke="#1f2238" stroke-width="1.1"/>
<circle cx="460.10" cy="610.60" r="1.8" fill="#fff" fill-opacity="0.85" stroke="#4a1c1c" stroke-width="1.1"/>
<circle cx="460.30" cy="614.80" r="1.8" fill="#fff" fill-opacity="0.85" stroke="#4a1c1c" stroke-width="1.1"/>
<circle cx="463.20" cy="613.50" r="1.8" fill="#fff" fill-opacity="0.85" stroke="#4a1c1c" stroke-width="1.1"/>
<circle cx="465.20" cy="616.30" r="1.8" fill="#fff" fill-opacity="0.85" stroke="#4a1c1c" stroke-width="1.1"/>
<circle cx="465.50" cy="621.80" r="1.8" fill="#fff" fill-opacity="0.85" stroke="#4a1c1c" stroke-width="1.1"/>
<circle cx="460.10" cy="623.60" r="1.8" fill="#fff" fill-opacity="0.85" stroke="#4a1c1c" stroke-width="1.1"/>
<circle cx="481.10" cy="639.40" r="1.8" fill="#fff" fill-opacity="0.85" stroke="#1f2238" stroke-width="1.1"/>
<circle cx="484.00" cy="638.30" r="1.8" fill="#fff" fill-opacity="0.85" stroke="#1f2238" stroke-width="1.1"/>
<circle cx="481.10" cy="642.30" r="1.8" fill="#fff" fill-opacity="0.85" stroke="#1f2238" stroke-width="1.1"/>
<circle cx="483.40" cy="640.90" r="1.8" fill="#fff" fill-opacity="0.85" stroke="#1f2238" stroke-width="1.1"/>
<circle cx="485.90" cy="642.30" r="1.8" fill="#fff" fill-opacity="0.85" stroke="#1f2238" stroke-width="1.1"/>
<circle cx="493.50" cy="629.80" r="1.8" fill="#fff" fill-opacity="0.85" stroke="#4a1c1c" stroke-width="1.1"/>
<circle cx="496.10" cy="627.30" r="1.8" fill="#fff" fill-opacity="0.85" stroke="#4a1c1c" stroke-width="1.1"/>
<circle cx="498.20" cy="629.40" r="1.8" fill="#fff" fill-opacity="0.85" stroke="#4a1c1c" stroke-width="1.1"/>
<circle cx="494.30" cy="633.10" r="1.8" fill="#fff" fill-opacity="0.85" stroke="#4a1c1c" stroke-width="1.1"/>
<circle cx="497.00" cy="631.70" r="1.8" fill="#fff" fill-opacity="0.85" stroke="#4a1c1c" stroke-width="1.1"/>
<line x1="450.80" y1="604.50" x2="463.80" y2="604.50" stroke="#2a2a2a" stroke-width="1.15"/>
<text x="457.30" y="605.20" font-size="7.5" text-anchor="middle" textLength="7.800000000000001" lengthAdjust="spacingAndGlyphs">***</text>
<line x1="482.80" y1="620.50" x2="495.80" y2="620.50" stroke="#2a2a2a" stroke-width="1.15"/>
<text x="489.30" y="621.40" font-size="7.5" text-anchor="middle" textLength="7.800000000000001" lengthAdjust="spacingAndGlyphs">***</text>
<text x="453.95" y="675.40" font-size="7.3" text-anchor="end" textLength="12.5" lengthAdjust="spacingAndGlyphs" transform="rotate(-45 453.95 675.40)">PBS</text>
<text x="465.95" y="675.40" font-size="7.3" text-anchor="end" textLength="12.5" lengthAdjust="spacingAndGlyphs" transform="rotate(-45 465.95 675.40)">EPO</text>
<text x="486.65" y="675.40" font-size="7.3" text-anchor="end" textLength="12.5" lengthAdjust="spacingAndGlyphs" transform="rotate(-45 486.65 675.40)">PBS</text>
<text x="499.05" y="675.40" font-size="7.3" text-anchor="end" textLength="12.5" lengthAdjust="spacingAndGlyphs" transform="rotate(-45 499.05 675.40)">EPO</text>
<line x1="442.00" y1="688.50" x2="466.90" y2="688.50" stroke="#333" stroke-width="1.1"/>
<text x="454.45" y="698.00" font-size="7.2" text-anchor="middle" textLength="9" lengthAdjust="spacingAndGlyphs">AA</text>
<line x1="477.30" y1="688.50" x2="501.10" y2="688.50" stroke="#333" stroke-width="1.1"/>
<text x="489.20" y="698.00" font-size="7.2" text-anchor="middle" textLength="7.8" lengthAdjust="spacingAndGlyphs">SS</text>
<rect x="0.5" y="0.5" width="519" height="705" fill="none" stroke="#5a5a5a" stroke-width="1"/>
</svg>
</body></html>
